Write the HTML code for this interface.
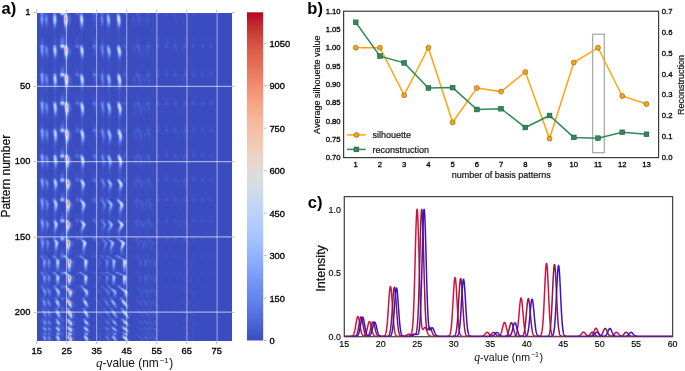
<!DOCTYPE html>
<html><head><meta charset="utf-8"><style>
html,body{margin:0;padding:0;background:#fff;width:685px;height:371px;overflow:hidden}
body{position:relative}
#hm{position:absolute;left:36.5px;top:12.5px;width:195px;height:328.5px;background-color:#3b4cc0;background-image:linear-gradient(90deg,rgba(59,76,192,0) 0%,rgba(59,76,192,0) 2.3%,rgba(150,180,250,.35) 2.9%,rgba(59,76,192,0) 3.5%,rgba(59,76,192,0) 8.8%,rgba(170,200,250,.45) 9.3%,rgba(59,76,192,0) 9.9%,rgba(59,76,192,0) 14.4%,rgba(235,150,120,.6) 15%,rgba(59,76,192,0) 15.7%,rgba(59,76,192,0) 22.6%,rgba(180,205,250,.5) 23.2%,rgba(59,76,192,0) 23.9%,rgba(59,76,192,0) 36.2%,rgba(170,200,250,.45) 36.8%,rgba(59,76,192,0) 37.5%,rgba(59,76,192,0) 41.6%,rgba(190,210,250,.5) 42.2%,rgba(59,76,192,0) 42.9%,rgba(59,76,192,0) 100%)}
</style></head><body>
<canvas id="hm" width="390" height="218"></canvas>
<svg width="685" height="371" viewBox="0 0 685 371" style="position:absolute;left:0;top:0">
<defs><linearGradient id="cb" x1="0" y1="0" x2="0" y2="1"><stop offset="0" stop-color="rgb(180,4,38)"/><stop offset="0.03" stop-color="rgb(190,36,46)"/><stop offset="0.06" stop-color="rgb(202,59,55)"/><stop offset="0.09" stop-color="rgb(212,78,65)"/><stop offset="0.12" stop-color="rgb(221,95,75)"/><stop offset="0.16" stop-color="rgb(228,110,86)"/><stop offset="0.19" stop-color="rgb(235,125,98)"/><stop offset="0.22" stop-color="rgb(240,139,110)"/><stop offset="0.25" stop-color="rgb(244,152,122)"/><stop offset="0.28" stop-color="rgb(246,165,134)"/><stop offset="0.31" stop-color="rgb(247,176,147)"/><stop offset="0.34" stop-color="rgb(247,186,159)"/><stop offset="0.38" stop-color="rgb(245,196,172)"/><stop offset="0.41" stop-color="rgb(241,204,184)"/><stop offset="0.44" stop-color="rgb(236,211,197)"/><stop offset="0.47" stop-color="rgb(229,216,209)"/><stop offset="0.5" stop-color="rgb(221,220,220)"/><stop offset="0.53" stop-color="rgb(213,219,229)"/><stop offset="0.56" stop-color="rgb(204,217,237)"/><stop offset="0.59" stop-color="rgb(195,213,244)"/><stop offset="0.62" stop-color="rgb(185,208,249)"/><stop offset="0.66" stop-color="rgb(174,201,252)"/><stop offset="0.69" stop-color="rgb(163,194,254)"/><stop offset="0.72" stop-color="rgb(152,185,255)"/><stop offset="0.75" stop-color="rgb(141,176,254)"/><stop offset="0.78" stop-color="rgb(130,166,251)"/><stop offset="0.81" stop-color="rgb(119,154,247)"/><stop offset="0.84" stop-color="rgb(108,143,241)"/><stop offset="0.88" stop-color="rgb(98,130,234)"/><stop offset="0.91" stop-color="rgb(88,117,225)"/><stop offset="0.94" stop-color="rgb(78,104,216)"/><stop offset="0.97" stop-color="rgb(68,90,204)"/><stop offset="1" stop-color="rgb(59,76,192)"/></linearGradient></defs>
<line x1="66.5" y1="12.5" x2="66.5" y2="341" stroke="#fff" stroke-opacity="0.5" stroke-width="1.05"/>
<line x1="96.62" y1="12.5" x2="96.62" y2="341" stroke="#fff" stroke-opacity="0.5" stroke-width="1.05"/>
<line x1="126.74" y1="12.5" x2="126.74" y2="341" stroke="#fff" stroke-opacity="0.5" stroke-width="1.05"/>
<line x1="156.86" y1="12.5" x2="156.86" y2="341" stroke="#fff" stroke-opacity="0.5" stroke-width="1.05"/>
<line x1="186.98" y1="12.5" x2="186.98" y2="341" stroke="#fff" stroke-opacity="0.5" stroke-width="1.05"/>
<line x1="217.1" y1="12.5" x2="217.1" y2="341" stroke="#fff" stroke-opacity="0.5" stroke-width="1.05"/>
<line x1="36.5" y1="86.4" x2="231.5" y2="86.4" stroke="#fff" stroke-opacity="0.55" stroke-width="1.1"/>
<line x1="36.5" y1="161.63" x2="231.5" y2="161.63" stroke="#fff" stroke-opacity="0.55" stroke-width="1.1"/>
<line x1="36.5" y1="236.87" x2="231.5" y2="236.87" stroke="#fff" stroke-opacity="0.55" stroke-width="1.1"/>
<line x1="36.5" y1="312.11" x2="231.5" y2="312.11" stroke="#fff" stroke-opacity="0.55" stroke-width="1.1"/>
<line x1="36.8" y1="341" x2="36.8" y2="344" stroke="#aaa" stroke-width="0.8"/>
<line x1="36.8" y1="9.5" x2="36.8" y2="12.5" stroke="#aaa" stroke-width="0.8"/>
<line x1="66.8" y1="341" x2="66.8" y2="344" stroke="#aaa" stroke-width="0.8"/>
<line x1="66.8" y1="9.5" x2="66.8" y2="12.5" stroke="#aaa" stroke-width="0.8"/>
<line x1="96.8" y1="341" x2="96.8" y2="344" stroke="#aaa" stroke-width="0.8"/>
<line x1="96.8" y1="9.5" x2="96.8" y2="12.5" stroke="#aaa" stroke-width="0.8"/>
<line x1="126.8" y1="341" x2="126.8" y2="344" stroke="#aaa" stroke-width="0.8"/>
<line x1="126.8" y1="9.5" x2="126.8" y2="12.5" stroke="#aaa" stroke-width="0.8"/>
<line x1="156.8" y1="341" x2="156.8" y2="344" stroke="#aaa" stroke-width="0.8"/>
<line x1="156.8" y1="9.5" x2="156.8" y2="12.5" stroke="#aaa" stroke-width="0.8"/>
<line x1="186.8" y1="341" x2="186.8" y2="344" stroke="#aaa" stroke-width="0.8"/>
<line x1="186.8" y1="9.5" x2="186.8" y2="12.5" stroke="#aaa" stroke-width="0.8"/>
<line x1="216.8" y1="341" x2="216.8" y2="344" stroke="#aaa" stroke-width="0.8"/>
<line x1="216.8" y1="9.5" x2="216.8" y2="12.5" stroke="#aaa" stroke-width="0.8"/>
<line x1="33.5" y1="12.5" x2="36.5" y2="12.5" stroke="#aaa" stroke-width="0.8"/>
<line x1="231.5" y1="12.5" x2="234.5" y2="12.5" stroke="#aaa" stroke-width="0.8"/>
<line x1="33.5" y1="86.34" x2="36.5" y2="86.34" stroke="#aaa" stroke-width="0.8"/>
<line x1="231.5" y1="86.34" x2="234.5" y2="86.34" stroke="#aaa" stroke-width="0.8"/>
<line x1="33.5" y1="161.68" x2="36.5" y2="161.68" stroke="#aaa" stroke-width="0.8"/>
<line x1="231.5" y1="161.68" x2="234.5" y2="161.68" stroke="#aaa" stroke-width="0.8"/>
<line x1="33.5" y1="237.03" x2="36.5" y2="237.03" stroke="#aaa" stroke-width="0.8"/>
<line x1="231.5" y1="237.03" x2="234.5" y2="237.03" stroke="#aaa" stroke-width="0.8"/>
<line x1="33.5" y1="312.37" x2="36.5" y2="312.37" stroke="#aaa" stroke-width="0.8"/>
<line x1="231.5" y1="312.37" x2="234.5" y2="312.37" stroke="#aaa" stroke-width="0.8"/>
<g style="font-family:&quot;Liberation Sans&quot;,sans-serif;font-size:8.4px" fill="#000" stroke="#000" stroke-width="0.3">
<text x="36.8" y="353.6" text-anchor="middle" textLength="10.4" lengthAdjust="spacingAndGlyphs">15</text>
<text x="66.8" y="353.6" text-anchor="middle" textLength="10.4" lengthAdjust="spacingAndGlyphs">25</text>
<text x="96.8" y="353.6" text-anchor="middle" textLength="10.4" lengthAdjust="spacingAndGlyphs">35</text>
<text x="126.8" y="353.6" text-anchor="middle" textLength="10.4" lengthAdjust="spacingAndGlyphs">45</text>
<text x="156.8" y="353.6" text-anchor="middle" textLength="10.4" lengthAdjust="spacingAndGlyphs">55</text>
<text x="186.8" y="353.6" text-anchor="middle" textLength="10.4" lengthAdjust="spacingAndGlyphs">65</text>
<text x="216.8" y="353.6" text-anchor="middle" textLength="10.4" lengthAdjust="spacingAndGlyphs">75</text>
<text x="30.4" y="15.1" text-anchor="end" textLength="5.2" lengthAdjust="spacingAndGlyphs">1</text>
<text x="30.4" y="88.94" text-anchor="end" textLength="10.4" lengthAdjust="spacingAndGlyphs">50</text>
<text x="30.4" y="164.28" text-anchor="end" textLength="15.6" lengthAdjust="spacingAndGlyphs">100</text>
<text x="30.4" y="239.63" text-anchor="end" textLength="15.6" lengthAdjust="spacingAndGlyphs">150</text>
<text x="30.4" y="314.97" text-anchor="end" textLength="15.6" lengthAdjust="spacingAndGlyphs">200</text>
<text x="269.4" y="344.1" textLength="5.2" lengthAdjust="spacingAndGlyphs">0</text>
<text x="269.4" y="301.64" textLength="15.6" lengthAdjust="spacingAndGlyphs">150</text>
<text x="269.4" y="259.19" textLength="15.6" lengthAdjust="spacingAndGlyphs">300</text>
<text x="269.4" y="216.73" textLength="15.6" lengthAdjust="spacingAndGlyphs">450</text>
<text x="269.4" y="174.27" textLength="15.6" lengthAdjust="spacingAndGlyphs">600</text>
<text x="269.4" y="131.81" textLength="15.6" lengthAdjust="spacingAndGlyphs">750</text>
<text x="269.4" y="89.36" textLength="15.6" lengthAdjust="spacingAndGlyphs">900</text>
<text x="269.4" y="46.9" textLength="20.8" lengthAdjust="spacingAndGlyphs">1050</text>
</g>
<rect x="247" y="12.3" width="16.2" height="328.2" fill="url(#cb)"/>
<line x1="264" y1="340.5" x2="266.6" y2="340.5" stroke="#aaa" stroke-width="0.8"/>
<line x1="264" y1="298.04" x2="266.6" y2="298.04" stroke="#aaa" stroke-width="0.8"/>
<line x1="264" y1="255.59" x2="266.6" y2="255.59" stroke="#aaa" stroke-width="0.8"/>
<line x1="264" y1="213.13" x2="266.6" y2="213.13" stroke="#aaa" stroke-width="0.8"/>
<line x1="264" y1="170.67" x2="266.6" y2="170.67" stroke="#aaa" stroke-width="0.8"/>
<line x1="264" y1="128.21" x2="266.6" y2="128.21" stroke="#aaa" stroke-width="0.8"/>
<line x1="264" y1="85.76" x2="266.6" y2="85.76" stroke="#aaa" stroke-width="0.8"/>
<line x1="264" y1="43.3" x2="266.6" y2="43.3" stroke="#aaa" stroke-width="0.8"/>
<text x="1.5" y="13.6" style="font-family:&quot;Liberation Sans&quot;,sans-serif;font-size:16.5px;font-weight:bold" fill="#000">a)</text>
<text transform="translate(10.4,176.2) rotate(-90)" text-anchor="middle" style="font-family:&quot;Liberation Sans&quot;,sans-serif;font-size:12px" fill="#111" stroke="#111" stroke-width="0.25">Pattern number</text>
<text x="134.6" y="367.2" text-anchor="middle" style="font-family:&quot;Liberation Sans&quot;,sans-serif;font-size:11.9px" fill="#111"><tspan style="font-family:&quot;Liberation Serif&quot;,serif;font-style:italic;font-size:13px">q</tspan>-value (nm<tspan dx="1" dy="-3.8" style="font-size:7.8px">&#8722;1</tspan><tspan dx="0.6" dy="3.8">)</tspan></text>
<text x="307.3" y="14.2" style="font-family:&quot;Liberation Sans&quot;,sans-serif;font-size:16.5px;font-weight:bold" fill="#000">b)</text>
<rect x="343.6" y="11.2" width="315" height="146.4" fill="none" stroke="#3a3a3a" stroke-width="1.2"/>
<g style="font-family:&quot;Liberation Sans&quot;,sans-serif;font-size:7.7px" fill="#000" stroke="#000" stroke-width="0.3">
<text x="340.6" y="13.8" text-anchor="end">1.10</text>
<text x="340.6" y="32.1" text-anchor="end">1.05</text>
<text x="340.6" y="50.4" text-anchor="end">1.00</text>
<text x="340.6" y="68.7" text-anchor="end">0.95</text>
<text x="340.6" y="87" text-anchor="end">0.90</text>
<text x="340.6" y="105.3" text-anchor="end">0.85</text>
<text x="340.6" y="123.6" text-anchor="end">0.80</text>
<text x="340.6" y="141.9" text-anchor="end">0.75</text>
<text x="340.6" y="160.2" text-anchor="end">0.70</text>
<text x="661.8" y="13.8">0.7</text>
<text x="661.8" y="34.71">0.6</text>
<text x="661.8" y="55.63">0.5</text>
<text x="661.8" y="76.54">0.4</text>
<text x="661.8" y="97.46">0.3</text>
<text x="661.8" y="118.37">0.2</text>
<text x="661.8" y="139.29">0.1</text>
<text x="661.8" y="160.2">0.0</text>
<text x="355.72" y="166.7" text-anchor="middle">1</text>
<text x="379.95" y="166.7" text-anchor="middle">2</text>
<text x="404.18" y="166.7" text-anchor="middle">3</text>
<text x="428.41" y="166.7" text-anchor="middle">4</text>
<text x="452.64" y="166.7" text-anchor="middle">5</text>
<text x="476.87" y="166.7" text-anchor="middle">6</text>
<text x="501.1" y="166.7" text-anchor="middle">7</text>
<text x="525.33" y="166.7" text-anchor="middle">8</text>
<text x="549.56" y="166.7" text-anchor="middle">9</text>
<text x="573.79" y="166.7" text-anchor="middle">10</text>
<text x="598.02" y="166.7" text-anchor="middle">11</text>
<text x="622.25" y="166.7" text-anchor="middle">12</text>
<text x="646.48" y="166.7" text-anchor="middle">13</text>
</g>
<text x="501.2" y="177.6" text-anchor="middle" style="font-family:&quot;Liberation Sans&quot;,sans-serif;font-size:9px" fill="#111" stroke="#111" stroke-width="0.2">number of basis patterns</text>
<text transform="translate(320.0,84.7) rotate(-90)" text-anchor="middle" style="font-family:&quot;Liberation Sans&quot;,sans-serif;font-size:9px" fill="#111" stroke="#111" stroke-width="0.2">Average silhouette value</text>
<text transform="translate(683.8,84.9) rotate(-90)" text-anchor="middle" style="font-family:&quot;Liberation Sans&quot;,sans-serif;font-size:9px" fill="#111" stroke="#111" stroke-width="0.2">Reconstruction</text>
<rect x="592.6" y="34.3" width="11.7" height="118.4" fill="none" stroke="#aaa" stroke-width="1.3"/>
<polyline points="355.72,47.7 379.95,47.7 404.18,95.2 428.41,47.7 452.64,122.3 476.87,88 501.1,91.6 525.33,72 549.56,138.6 573.79,62.5 598.02,47.7 622.25,96 646.48,104" fill="none" stroke="#fda50f" stroke-width="1.5"/>
<polyline points="355.72,22.3 379.95,56.1 404.18,62.9 428.41,88 452.64,87.6 476.87,109.5 501.1,108.7 525.33,127.5 549.56,115.5 573.79,137.4 598.02,138.2 622.25,132.3 646.48,134.3" fill="none" stroke="#2e8b57" stroke-width="1.5"/>
<circle cx="355.72" cy="47.7" r="2.5" fill="#fda50f" stroke="#5a4a20" stroke-width="0.5"/>
<circle cx="379.95" cy="47.7" r="2.5" fill="#fda50f" stroke="#5a4a20" stroke-width="0.5"/>
<circle cx="404.18" cy="95.2" r="2.5" fill="#fda50f" stroke="#5a4a20" stroke-width="0.5"/>
<circle cx="428.41" cy="47.7" r="2.5" fill="#fda50f" stroke="#5a4a20" stroke-width="0.5"/>
<circle cx="452.64" cy="122.3" r="2.5" fill="#fda50f" stroke="#5a4a20" stroke-width="0.5"/>
<circle cx="476.87" cy="88" r="2.5" fill="#fda50f" stroke="#5a4a20" stroke-width="0.5"/>
<circle cx="501.1" cy="91.6" r="2.5" fill="#fda50f" stroke="#5a4a20" stroke-width="0.5"/>
<circle cx="525.33" cy="72" r="2.5" fill="#fda50f" stroke="#5a4a20" stroke-width="0.5"/>
<circle cx="549.56" cy="138.6" r="2.5" fill="#fda50f" stroke="#5a4a20" stroke-width="0.5"/>
<circle cx="573.79" cy="62.5" r="2.5" fill="#fda50f" stroke="#5a4a20" stroke-width="0.5"/>
<circle cx="598.02" cy="47.7" r="2.5" fill="#fda50f" stroke="#5a4a20" stroke-width="0.5"/>
<circle cx="622.25" cy="96" r="2.5" fill="#fda50f" stroke="#5a4a20" stroke-width="0.5"/>
<circle cx="646.48" cy="104" r="2.5" fill="#fda50f" stroke="#5a4a20" stroke-width="0.5"/>
<rect x="353.32" y="19.9" width="4.8" height="4.8" fill="#2e8b57" stroke="#1d4a30" stroke-width="0.5"/>
<rect x="377.55" y="53.7" width="4.8" height="4.8" fill="#2e8b57" stroke="#1d4a30" stroke-width="0.5"/>
<rect x="401.78" y="60.5" width="4.8" height="4.8" fill="#2e8b57" stroke="#1d4a30" stroke-width="0.5"/>
<rect x="426.01" y="85.6" width="4.8" height="4.8" fill="#2e8b57" stroke="#1d4a30" stroke-width="0.5"/>
<rect x="450.24" y="85.2" width="4.8" height="4.8" fill="#2e8b57" stroke="#1d4a30" stroke-width="0.5"/>
<rect x="474.47" y="107.1" width="4.8" height="4.8" fill="#2e8b57" stroke="#1d4a30" stroke-width="0.5"/>
<rect x="498.7" y="106.3" width="4.8" height="4.8" fill="#2e8b57" stroke="#1d4a30" stroke-width="0.5"/>
<rect x="522.93" y="125.1" width="4.8" height="4.8" fill="#2e8b57" stroke="#1d4a30" stroke-width="0.5"/>
<rect x="547.16" y="113.1" width="4.8" height="4.8" fill="#2e8b57" stroke="#1d4a30" stroke-width="0.5"/>
<rect x="571.39" y="135" width="4.8" height="4.8" fill="#2e8b57" stroke="#1d4a30" stroke-width="0.5"/>
<rect x="595.62" y="135.8" width="4.8" height="4.8" fill="#2e8b57" stroke="#1d4a30" stroke-width="0.5"/>
<rect x="619.85" y="129.9" width="4.8" height="4.8" fill="#2e8b57" stroke="#1d4a30" stroke-width="0.5"/>
<rect x="644.08" y="131.9" width="4.8" height="4.8" fill="#2e8b57" stroke="#1d4a30" stroke-width="0.5"/>
<line x1="347" y1="134.9" x2="365.7" y2="134.9" stroke="#fda50f" stroke-width="1.5"/>
<circle cx="356.4" cy="134.9" r="2.5" fill="#fda50f" stroke="#5a4a20" stroke-width="0.5"/>
<line x1="347" y1="149.4" x2="365.7" y2="149.4" stroke="#2e8b57" stroke-width="1.5"/>
<rect x="354" y="147" width="4.8" height="4.8" fill="#2e8b57" stroke="#1d4a30" stroke-width="0.5"/>
<text x="372.4" y="138.2" style="font-family:&quot;Liberation Sans&quot;,sans-serif;font-size:9px" fill="#111" stroke="#111" stroke-width="0.2">silhouette</text>
<text x="372.6" y="152.6" style="font-family:&quot;Liberation Sans&quot;,sans-serif;font-size:9px" fill="#111" stroke="#111" stroke-width="0.2">reconstruction</text>
<text x="307.8" y="208.2" style="font-family:&quot;Liberation Sans&quot;,sans-serif;font-size:16.5px;font-weight:bold" fill="#000">c)</text>
<g style="font-family:&quot;Liberation Sans&quot;,sans-serif;font-size:9.9px" fill="#000" stroke="#000" stroke-width="0.15">
<text x="340.9" y="339.8" text-anchor="end" textLength="12.38" lengthAdjust="spacingAndGlyphs">0.0</text>
<text x="340.9" y="276.25" text-anchor="end" textLength="12.38" lengthAdjust="spacingAndGlyphs">0.5</text>
<text x="340.9" y="212.7" text-anchor="end" textLength="12.38" lengthAdjust="spacingAndGlyphs">1.0</text>
<text x="344.3" y="347.1" text-anchor="middle" textLength="9.91" lengthAdjust="spacingAndGlyphs">15</text>
<text x="380.78" y="347.1" text-anchor="middle" textLength="9.91" lengthAdjust="spacingAndGlyphs">20</text>
<text x="417.26" y="347.1" text-anchor="middle" textLength="9.91" lengthAdjust="spacingAndGlyphs">25</text>
<text x="453.73" y="347.1" text-anchor="middle" textLength="9.91" lengthAdjust="spacingAndGlyphs">30</text>
<text x="490.21" y="347.1" text-anchor="middle" textLength="9.91" lengthAdjust="spacingAndGlyphs">35</text>
<text x="526.69" y="347.1" text-anchor="middle" textLength="9.91" lengthAdjust="spacingAndGlyphs">40</text>
<text x="563.17" y="347.1" text-anchor="middle" textLength="9.91" lengthAdjust="spacingAndGlyphs">45</text>
<text x="599.64" y="347.1" text-anchor="middle" textLength="9.91" lengthAdjust="spacingAndGlyphs">50</text>
<text x="636.12" y="347.1" text-anchor="middle" textLength="9.91" lengthAdjust="spacingAndGlyphs">55</text>
<text x="672.6" y="347.1" text-anchor="middle" textLength="9.91" lengthAdjust="spacingAndGlyphs">60</text>
</g>
<text transform="translate(324.6,268.4) rotate(-90)" text-anchor="middle" style="font-family:&quot;Liberation Sans&quot;,sans-serif;font-size:12.5px" fill="#111" stroke="#111" stroke-width="0.25">Intensity</text>
<text x="508.6" y="360.8" text-anchor="middle" style="font-family:&quot;Liberation Sans&quot;,sans-serif;font-size:10.6px" fill="#111"><tspan style="font-family:&quot;Liberation Serif&quot;,serif;font-style:italic;font-size:11.6px">q</tspan>-value (nm<tspan dx="1" dy="-3.6" style="font-size:7px">&#8722;1</tspan><tspan dx="0.5" dy="3.6">)</tspan></text>
<rect x="344.3" y="196.6" width="328.3" height="140.1" fill="none" stroke="#444" stroke-width="1.25"/>
<clipPath id="cc"><rect x="344.8" y="196.6" width="327.3" height="139.9"/></clipPath>
<g clip-path="url(#cc)"><polyline points="344.3,336.4 344.45,336.4 344.59,336.4 344.74,336.4 344.88,336.4 345.03,336.4 345.18,336.4 345.32,336.4 345.47,336.4 345.61,336.4 345.76,336.4 345.91,336.4 346.05,336.4 346.2,336.4 346.34,336.4 346.49,336.4 346.63,336.4 346.78,336.4 346.93,336.4 347.07,336.4 347.22,336.4 347.36,336.4 347.51,336.4 347.66,336.4 347.8,336.4 347.95,336.4 348.09,336.4 348.24,336.4 348.39,336.4 348.53,336.4 348.68,336.4 348.82,336.4 348.97,336.4 349.12,336.4 349.26,336.4 349.41,336.4 349.55,336.4 349.7,336.4 349.84,336.4 349.99,336.39 350.14,336.39 350.28,336.39 350.43,336.38 350.57,336.38 350.72,336.37 350.87,336.36 351.01,336.35 351.16,336.34 351.3,336.32 351.45,336.3 351.6,336.28 351.74,336.24 351.89,336.2 352.03,336.15 352.18,336.09 352.33,336.02 352.47,335.94 352.62,335.83 352.76,335.71 352.91,335.57 353.05,335.4 353.2,335.21 353.35,334.98 353.49,334.72 353.64,334.43 353.78,334.09 353.93,333.72 354.08,333.3 354.22,332.83 354.37,332.32 354.51,331.76 354.66,331.14 354.81,330.49 354.95,329.78 355.1,329.04 355.24,328.25 355.39,327.43 355.54,326.58 355.68,325.7 355.83,324.82 355.97,323.93 356.12,323.04 356.26,322.17 356.41,321.33 356.56,320.52 356.7,319.77 356.85,319.07 356.99,318.44 357.14,317.89 357.29,317.42 357.43,317.06 357.58,316.79 357.72,316.63 357.87,316.57 358.02,316.63 358.16,316.79 358.31,317.06 358.45,317.42 358.6,317.89 358.75,318.44 358.89,319.07 359.04,319.77 359.18,320.52 359.33,321.33 359.47,322.17 359.62,323.04 359.77,323.93 359.91,324.82 360.06,325.7 360.2,326.58 360.35,327.43 360.5,328.25 360.64,329.03 360.79,329.78 360.93,330.49 361.08,331.14 361.23,331.75 361.37,332.31 361.52,332.83 361.66,333.29 361.81,333.71 361.96,334.08 362.1,334.41 362.25,334.7 362.39,334.96 362.54,335.18 362.68,335.36 362.83,335.52 362.98,335.65 363.12,335.75 363.27,335.83 363.41,335.89 363.56,335.93 363.71,335.95 363.85,335.95 364,335.93 364.14,335.89 364.29,335.84 364.44,335.76 364.58,335.66 364.73,335.54 364.87,335.4 365.02,335.22 365.17,335.02 365.31,334.8 365.46,334.54 365.6,334.24 365.75,333.92 365.89,333.55 366.04,333.16 366.19,332.72 366.33,332.25 366.48,331.74 366.62,331.2 366.77,330.63 366.92,330.04 367.06,329.41 367.21,328.77 367.35,328.12 367.5,327.46 367.65,326.8 367.79,326.14 367.94,325.5 368.08,324.89 368.23,324.31 368.38,323.76 368.52,323.27 368.67,322.83 368.81,322.45 368.96,322.14 369.1,321.91 369.25,321.75 369.4,321.67 369.54,321.67 369.69,321.75 369.83,321.91 369.98,322.14 370.13,322.45 370.27,322.83 370.42,323.27 370.56,323.76 370.71,324.31 370.86,324.89 371,325.5 371.15,326.14 371.29,326.8 371.44,327.46 371.59,328.12 371.73,328.77 371.88,329.41 372.02,330.04 372.17,330.63 372.31,331.21 372.46,331.75 372.61,332.25 372.75,332.72 372.9,333.16 373.04,333.56 373.19,333.92 373.34,334.25 373.48,334.55 373.63,334.81 373.77,335.05 373.92,335.25 374.07,335.43 374.21,335.59 374.36,335.72 374.5,335.84 374.65,335.94 374.8,336.02 374.94,336.09 375.09,336.15 375.23,336.2 375.38,336.24 375.52,336.27 375.67,336.3 375.82,336.32 375.96,336.34 376.11,336.35 376.25,336.36 376.4,336.37 376.55,336.38 376.69,336.38 376.84,336.39 376.98,336.39 377.13,336.39 377.28,336.39 377.42,336.4 377.57,336.4 377.71,336.4 377.86,336.4 378.01,336.4 378.15,336.4 378.3,336.4 378.44,336.4 378.59,336.4 378.74,336.4 378.88,336.4 379.03,336.4 379.17,336.4 379.32,336.4 379.46,336.4 379.61,336.4 379.76,336.4 379.9,336.4 380.05,336.4 380.19,336.4 380.34,336.4 380.49,336.4 380.63,336.4 380.78,336.4 380.92,336.4 381.07,336.4 381.22,336.4 381.36,336.4 381.51,336.4 381.65,336.4 381.8,336.4 381.95,336.4 382.09,336.39 382.24,336.39 382.38,336.39 382.53,336.39 382.67,336.38 382.82,336.37 382.97,336.37 383.11,336.35 383.26,336.34 383.4,336.32 383.55,336.3 383.7,336.27 383.84,336.23 383.99,336.18 384.13,336.12 384.28,336.05 384.43,335.96 384.57,335.85 384.72,335.71 384.86,335.54 385.01,335.35 385.16,335.11 385.3,334.83 385.45,334.49 385.59,334.1 385.74,333.65 385.88,333.12 386.03,332.51 386.18,331.81 386.32,331.02 386.47,330.13 386.61,329.13 386.76,328.01 386.91,326.78 387.05,325.42 387.2,323.94 387.34,322.35 387.49,320.63 387.64,318.8 387.78,316.87 387.93,314.84 388.07,312.73 388.22,310.56 388.37,308.34 388.51,306.1 388.66,303.86 388.8,301.65 388.95,299.49 389.09,297.41 389.24,295.43 389.39,293.59 389.53,291.92 389.68,290.43 389.82,289.15 389.97,288.1 390.12,287.3 390.26,286.76 390.41,286.48 390.55,286.48 390.7,286.76 390.85,287.3 390.99,288.1 391.14,289.15 391.28,290.43 391.43,291.92 391.58,293.59 391.72,295.43 391.87,297.41 392.01,299.49 392.16,301.65 392.3,303.86 392.45,306.1 392.6,308.34 392.74,310.56 392.89,312.73 393.03,314.84 393.18,316.87 393.33,318.8 393.47,320.63 393.62,322.35 393.76,323.94 393.91,325.42 394.06,326.78 394.2,328.01 394.35,329.13 394.49,330.13 394.64,331.02 394.79,331.81 394.93,332.51 395.08,333.12 395.22,333.65 395.37,334.1 395.51,334.49 395.66,334.83 395.81,335.11 395.95,335.35 396.1,335.54 396.24,335.71 396.39,335.85 396.54,335.96 396.68,336.05 396.83,336.12 396.97,336.18 397.12,336.23 397.27,336.27 397.41,336.3 397.56,336.32 397.7,336.34 397.85,336.35 398,336.37 398.14,336.37 398.29,336.38 398.43,336.39 398.58,336.39 398.72,336.39 398.87,336.39 399.02,336.4 399.16,336.4 399.31,336.4 399.45,336.4 399.6,336.4 399.75,336.4 399.89,336.4 400.04,336.4 400.18,336.4 400.33,336.4 400.48,336.4 400.62,336.4 400.77,336.4 400.91,336.4 401.06,336.4 401.21,336.4 401.35,336.4 401.5,336.4 401.64,336.4 401.79,336.4 401.93,336.39 402.08,336.39 402.23,336.39 402.37,336.39 402.52,336.38 402.66,336.38 402.81,336.37 402.96,336.37 403.1,336.36 403.25,336.35 403.39,336.34 403.54,336.33 403.69,336.31 403.83,336.29 403.98,336.27 404.12,336.25 404.27,336.22 404.42,336.19 404.56,336.15 404.71,336.11 404.85,336.07 405,336.02 405.14,335.96 405.29,335.9 405.44,335.83 405.58,335.76 405.73,335.68 405.87,335.59 406.02,335.51 406.17,335.41 406.31,335.32 406.46,335.22 406.6,335.11 406.75,335.01 406.9,334.91 407.04,334.81 407.19,334.71 407.33,334.61 407.48,334.52 407.63,334.44 407.77,334.36 407.92,334.29 408.06,334.23 408.21,334.18 408.35,334.14 408.5,334.12 408.65,334.1 408.79,334.1 408.94,334.1 409.08,334.12 409.23,334.15 409.38,334.18 409.52,334.22 409.67,334.26 409.81,334.31 409.96,334.35 410.11,334.39 410.25,334.41 410.4,334.43 410.54,334.42 410.69,334.39 410.84,334.32 410.98,334.21 411.13,334.05 411.27,333.84 411.42,333.55 411.57,333.17 411.71,332.71 411.86,332.13 412,331.42 412.15,330.57 412.29,329.55 412.44,328.36 412.59,326.96 412.73,325.35 412.88,323.5 413.02,321.4 413.17,319.02 413.32,316.36 413.46,313.39 413.61,310.12 413.75,306.54 413.9,302.64 414.05,298.44 414.19,293.93 414.34,289.15 414.48,284.12 414.63,278.86 414.78,273.41 414.92,267.83 415.07,262.15 415.21,256.45 415.36,250.77 415.5,245.2 415.65,239.79 415.8,234.62 415.94,229.76 416.09,225.28 416.23,221.25 416.38,217.72 416.53,214.76 416.67,212.4 416.82,210.68 416.96,209.65 417.11,209.3 417.26,209.64 417.4,210.68 417.55,212.39 417.69,214.75 417.84,217.71 417.99,221.23 418.13,225.26 418.28,229.74 418.42,234.59 418.57,239.75 418.71,245.14 418.86,250.7 419.01,256.36 419.15,262.04 419.3,267.69 419.44,273.24 419.59,278.65 419.74,283.87 419.88,288.85 420.03,293.57 420.17,298 420.32,302.13 420.47,305.93 420.61,309.41 420.76,312.56 420.9,315.39 421.05,317.9 421.2,320.11 421.34,322.04 421.49,323.68 421.63,325.08 421.78,326.24 421.92,327.18 422.07,327.93 422.22,328.51 422.36,328.93 422.51,329.21 422.65,329.38 422.8,329.44 422.95,329.43 423.09,329.34 423.24,329.2 423.38,329.03 423.53,328.83 423.68,328.61 423.82,328.39 423.97,328.18 424.11,327.98 424.26,327.81 424.41,327.66 424.55,327.55 424.7,327.48 424.84,327.45 424.99,327.47 425.13,327.53 425.28,327.63 425.43,327.78 425.57,327.97 425.72,328.2 425.86,328.47 426.01,328.77 426.16,329.1 426.3,329.45 426.45,329.82 426.59,330.21 426.74,330.6 426.89,331 427.03,331.4 427.18,331.8 427.32,332.18 427.47,332.56 427.62,332.92 427.76,333.27 427.91,333.59 428.05,333.9 428.2,334.18 428.34,334.44 428.49,334.69 428.64,334.91 428.78,335.1 428.93,335.28 429.07,335.44 429.22,335.58 429.37,335.71 429.51,335.82 429.66,335.91 429.8,335.99 429.95,336.06 430.1,336.12 430.24,336.17 430.39,336.21 430.53,336.25 430.68,336.28 430.83,336.3 430.97,336.32 431.12,336.34 431.26,336.35 431.41,336.36 431.55,336.37 431.7,336.38 431.85,336.38 431.99,336.39 432.14,336.39 432.28,336.39 432.43,336.39 432.58,336.4 432.72,336.4 432.87,336.4 433.01,336.4 433.16,336.4 433.31,336.4 433.45,336.4 433.6,336.4 433.74,336.4 433.89,336.4 434.04,336.4 434.18,336.4 434.33,336.4 434.47,336.4 434.62,336.4 434.76,336.4 434.91,336.4 435.06,336.4 435.2,336.4 435.35,336.4 435.49,336.4 435.64,336.4 435.79,336.4 435.93,336.4 436.08,336.4 436.22,336.4 436.37,336.4 436.52,336.4 436.66,336.4 436.81,336.4 436.95,336.4 437.1,336.4 437.25,336.4 437.39,336.4 437.54,336.4 437.68,336.4 437.83,336.4 437.97,336.4 438.12,336.4 438.27,336.4 438.41,336.4 438.56,336.4 438.7,336.4 438.85,336.4 439,336.4 439.14,336.4 439.29,336.4 439.43,336.4 439.58,336.4 439.73,336.4 439.87,336.4 440.02,336.4 440.16,336.4 440.31,336.4 440.46,336.4 440.6,336.4 440.75,336.4 440.89,336.4 441.04,336.4 441.18,336.4 441.33,336.4 441.48,336.4 441.62,336.4 441.77,336.4 441.91,336.4 442.06,336.4 442.21,336.4 442.35,336.4 442.5,336.4 442.64,336.4 442.79,336.4 442.94,336.4 443.08,336.4 443.23,336.4 443.37,336.4 443.52,336.4 443.67,336.4 443.81,336.4 443.96,336.4 444.1,336.4 444.25,336.4 444.4,336.4 444.54,336.4 444.69,336.4 444.83,336.4 444.98,336.4 445.12,336.4 445.27,336.4 445.42,336.4 445.56,336.4 445.71,336.4 445.85,336.4 446,336.4 446.15,336.4 446.29,336.4 446.44,336.4 446.58,336.39 446.73,336.39 446.88,336.39 447.02,336.39 447.17,336.38 447.31,336.37 447.46,336.36 447.61,336.35 447.75,336.34 447.9,336.32 448.04,336.29 448.19,336.26 448.33,336.22 448.48,336.17 448.63,336.11 448.77,336.03 448.92,335.93 449.06,335.82 449.21,335.67 449.36,335.49 449.5,335.28 449.65,335.02 449.79,334.72 449.94,334.36 450.09,333.93 450.23,333.43 450.38,332.85 450.52,332.19 450.67,331.42 450.82,330.54 450.96,329.55 451.11,328.44 451.25,327.19 451.4,325.81 451.54,324.28 451.69,322.61 451.84,320.8 451.98,318.85 452.13,316.76 452.27,314.54 452.42,312.21 452.57,309.77 452.71,307.25 452.86,304.66 453,302.03 453.15,299.39 453.3,296.76 453.44,294.18 453.59,291.67 453.73,289.28 453.88,287.03 454.03,284.95 454.17,283.09 454.32,281.45 454.46,280.08 454.61,278.99 454.75,278.19 454.9,277.71 455.05,277.55 455.19,277.71 455.34,278.19 455.48,278.99 455.63,280.08 455.78,281.45 455.92,283.09 456.07,284.95 456.21,287.03 456.36,289.28 456.51,291.67 456.65,294.18 456.8,296.76 456.94,299.39 457.09,302.03 457.24,304.66 457.38,307.25 457.53,309.77 457.67,312.21 457.82,314.54 457.96,316.76 458.11,318.85 458.26,320.8 458.4,322.61 458.55,324.28 458.69,325.81 458.84,327.19 458.99,328.44 459.13,329.55 459.28,330.54 459.42,331.42 459.57,332.19 459.72,332.85 459.86,333.43 460.01,333.93 460.15,334.36 460.3,334.72 460.45,335.02 460.59,335.28 460.74,335.49 460.88,335.67 461.03,335.82 461.17,335.93 461.32,336.03 461.47,336.11 461.61,336.17 461.76,336.22 461.9,336.26 462.05,336.29 462.2,336.32 462.34,336.34 462.49,336.35 462.63,336.36 462.78,336.37 462.93,336.38 463.07,336.39 463.22,336.39 463.36,336.39 463.51,336.39 463.66,336.4 463.8,336.4 463.95,336.4 464.09,336.4 464.24,336.4 464.38,336.4 464.53,336.4 464.68,336.4 464.82,336.4 464.97,336.4 465.11,336.4 465.26,336.4 465.41,336.4 465.55,336.4 465.7,336.4 465.84,336.4 465.99,336.4 466.14,336.4 466.28,336.4 466.43,336.4 466.57,336.4 466.72,336.4 466.87,336.4 467.01,336.4 467.16,336.4 467.3,336.4 467.45,336.4 467.59,336.4 467.74,336.4 467.89,336.4 468.03,336.4 468.18,336.4 468.32,336.4 468.47,336.4 468.62,336.4 468.76,336.4 468.91,336.4 469.05,336.4 469.2,336.4 469.35,336.4 469.49,336.4 469.64,336.4 469.78,336.4 469.93,336.4 470.08,336.4 470.22,336.4 470.37,336.4 470.51,336.4 470.66,336.4 470.8,336.4 470.95,336.4 471.1,336.4 471.24,336.4 471.39,336.4 471.53,336.4 471.68,336.4 471.83,336.4 471.97,336.4 472.12,336.4 472.26,336.4 472.41,336.4 472.56,336.4 472.7,336.4 472.85,336.4 472.99,336.4 473.14,336.4 473.29,336.4 473.43,336.4 473.58,336.4 473.72,336.4 473.87,336.4 474.01,336.4 474.16,336.4 474.31,336.4 474.45,336.4 474.6,336.4 474.74,336.4 474.89,336.4 475.04,336.4 475.18,336.4 475.33,336.4 475.47,336.4 475.62,336.4 475.77,336.4 475.91,336.4 476.06,336.4 476.2,336.4 476.35,336.4 476.5,336.4 476.64,336.4 476.79,336.4 476.93,336.4 477.08,336.4 477.23,336.4 477.37,336.4 477.52,336.4 477.66,336.4 477.81,336.4 477.95,336.4 478.1,336.4 478.25,336.4 478.39,336.4 478.54,336.4 478.68,336.4 478.83,336.4 478.98,336.4 479.12,336.4 479.27,336.4 479.41,336.4 479.56,336.4 479.71,336.4 479.85,336.4 480,336.39 480.14,336.39 480.29,336.39 480.44,336.39 480.58,336.38 480.73,336.38 480.87,336.37 481.02,336.37 481.16,336.36 481.31,336.35 481.46,336.34 481.6,336.32 481.75,336.3 481.89,336.28 482.04,336.26 482.19,336.23 482.33,336.19 482.48,336.15 482.62,336.11 482.77,336.06 482.92,336 483.06,335.93 483.21,335.85 483.35,335.76 483.5,335.67 483.65,335.56 483.79,335.45 483.94,335.32 484.08,335.19 484.23,335.04 484.37,334.89 484.52,334.73 484.67,334.56 484.81,334.38 484.96,334.21 485.1,334.02 485.25,333.84 485.4,333.66 485.54,333.48 485.69,333.31 485.83,333.14 485.98,332.99 486.13,332.84 486.27,332.72 486.42,332.6 486.56,332.51 486.71,332.43 486.86,332.38 487,332.34 487.15,332.33 487.29,332.34 487.44,332.38 487.58,332.43 487.73,332.51 487.88,332.6 488.02,332.72 488.17,332.84 488.31,332.99 488.46,333.14 488.61,333.31 488.75,333.48 488.9,333.66 489.04,333.84 489.19,334.02 489.34,334.21 489.48,334.38 489.63,334.56 489.77,334.73 489.92,334.89 490.07,335.04 490.21,335.19 490.36,335.32 490.5,335.45 490.65,335.56 490.79,335.67 490.94,335.76 491.09,335.85 491.23,335.93 491.38,336 491.52,336.06 491.67,336.11 491.82,336.15 491.96,336.19 492.11,336.23 492.25,336.26 492.4,336.28 492.55,336.3 492.69,336.32 492.84,336.34 492.98,336.35 493.13,336.36 493.28,336.37 493.42,336.37 493.57,336.38 493.71,336.38 493.86,336.39 494,336.39 494.15,336.39 494.3,336.39 494.44,336.4 494.59,336.4 494.73,336.4 494.88,336.4 495.03,336.4 495.17,336.4 495.32,336.4 495.46,336.4 495.61,336.4 495.76,336.4 495.9,336.4 496.05,336.4 496.19,336.4 496.34,336.4 496.49,336.4 496.63,336.4 496.78,336.39 496.92,336.39 497.07,336.39 497.21,336.39 497.36,336.38 497.51,336.37 497.65,336.37 497.8,336.36 497.94,336.35 498.09,336.33 498.24,336.31 498.38,336.29 498.53,336.26 498.67,336.23 498.82,336.18 498.97,336.13 499.11,336.07 499.26,336 499.4,335.91 499.55,335.81 499.7,335.7 499.84,335.56 499.99,335.4 500.13,335.22 500.28,335.01 500.42,334.77 500.57,334.51 500.72,334.21 500.86,333.88 501.01,333.52 501.15,333.12 501.3,332.69 501.45,332.23 501.59,331.73 501.74,331.21 501.88,330.65 502.03,330.07 502.18,329.47 502.32,328.86 502.47,328.23 502.61,327.61 502.76,326.98 502.91,326.37 503.05,325.77 503.2,325.2 503.34,324.67 503.49,324.18 503.63,323.73 503.78,323.35 503.93,323.02 504.07,322.76 504.22,322.57 504.36,322.46 504.51,322.42 504.66,322.46 504.8,322.57 504.95,322.76 505.09,323.02 505.24,323.35 505.39,323.73 505.53,324.18 505.68,324.67 505.82,325.2 505.97,325.77 506.12,326.37 506.26,326.98 506.41,327.61 506.55,328.23 506.7,328.86 506.84,329.47 506.99,330.07 507.14,330.65 507.28,331.21 507.43,331.73 507.57,332.23 507.72,332.69 507.87,333.12 508.01,333.52 508.16,333.88 508.3,334.21 508.45,334.51 508.6,334.77 508.74,335.01 508.89,335.22 509.03,335.4 509.18,335.56 509.33,335.7 509.47,335.81 509.62,335.91 509.76,336 509.91,336.07 510.06,336.13 510.2,336.18 510.35,336.23 510.49,336.26 510.64,336.29 510.78,336.31 510.93,336.33 511.08,336.35 511.22,336.36 511.37,336.37 511.51,336.37 511.66,336.38 511.81,336.38 511.95,336.39 512.1,336.39 512.24,336.39 512.39,336.39 512.54,336.39 512.68,336.39 512.83,336.39 512.97,336.39 513.12,336.39 513.27,336.38 513.41,336.38 513.56,336.37 513.7,336.36 513.85,336.35 513.99,336.34 514.14,336.32 514.29,336.3 514.43,336.27 514.58,336.23 514.72,336.19 514.87,336.13 515.02,336.06 515.16,335.97 515.31,335.87 515.45,335.74 515.6,335.59 515.75,335.41 515.89,335.19 516.04,334.93 516.18,334.63 516.33,334.28 516.48,333.88 516.62,333.41 516.77,332.87 516.91,332.27 517.06,331.58 517.2,330.81 517.35,329.95 517.5,329 517.64,327.96 517.79,326.83 517.93,325.6 518.08,324.28 518.23,322.88 518.37,321.39 518.52,319.83 518.66,318.21 518.81,316.54 518.96,314.84 519.1,313.12 519.25,311.4 519.39,309.7 519.54,308.03 519.69,306.43 519.83,304.92 519.98,303.5 520.12,302.22 520.27,301.07 520.41,300.09 520.56,299.28 520.71,298.67 520.85,298.25 521,298.04 521.14,298.04 521.29,298.25 521.44,298.67 521.58,299.28 521.73,300.09 521.87,301.07 522.02,302.22 522.17,303.5 522.31,304.92 522.46,306.43 522.6,308.03 522.75,309.7 522.9,311.4 523.04,313.12 523.19,314.84 523.33,316.54 523.48,318.21 523.62,319.83 523.77,321.39 523.92,322.88 524.06,324.28 524.21,325.6 524.35,326.83 524.5,327.96 524.65,329 524.79,329.95 524.94,330.81 525.08,331.58 525.23,332.27 525.38,332.87 525.52,333.41 525.67,333.88 525.81,334.28 525.96,334.63 526.11,334.93 526.25,335.19 526.4,335.41 526.54,335.59 526.69,335.74 526.83,335.87 526.98,335.97 527.13,336.06 527.27,336.13 527.42,336.19 527.56,336.23 527.71,336.27 527.86,336.3 528,336.32 528.15,336.34 528.29,336.35 528.44,336.36 528.59,336.37 528.73,336.38 528.88,336.39 529.02,336.39 529.17,336.39 529.32,336.39 529.46,336.4 529.61,336.4 529.75,336.4 529.9,336.4 530.04,336.4 530.19,336.4 530.34,336.4 530.48,336.4 530.63,336.4 530.77,336.4 530.92,336.4 531.07,336.4 531.21,336.4 531.36,336.4 531.5,336.4 531.65,336.4 531.8,336.4 531.94,336.4 532.09,336.4 532.23,336.4 532.38,336.4 532.53,336.4 532.67,336.4 532.82,336.4 532.96,336.4 533.11,336.4 533.25,336.4 533.4,336.4 533.55,336.4 533.69,336.4 533.84,336.4 533.98,336.4 534.13,336.4 534.28,336.4 534.42,336.4 534.57,336.4 534.71,336.4 534.86,336.4 535.01,336.4 535.15,336.4 535.3,336.4 535.44,336.4 535.59,336.4 535.74,336.4 535.88,336.4 536.03,336.4 536.17,336.4 536.32,336.4 536.46,336.4 536.61,336.4 536.76,336.4 536.9,336.4 537.05,336.4 537.19,336.4 537.34,336.4 537.49,336.4 537.63,336.4 537.78,336.4 537.92,336.39 538.07,336.39 538.22,336.39 538.36,336.39 538.51,336.38 538.65,336.38 538.8,336.37 538.95,336.36 539.09,336.34 539.24,336.32 539.38,336.3 539.53,336.27 539.67,336.23 539.82,336.18 539.97,336.12 540.11,336.04 540.26,335.94 540.4,335.82 540.55,335.67 540.7,335.49 540.84,335.27 540.99,335.01 541.13,334.69 541.28,334.31 541.43,333.86 541.57,333.33 541.72,332.72 541.86,332 542.01,331.17 542.16,330.21 542.3,329.13 542.45,327.89 542.59,326.51 542.74,324.96 542.89,323.24 543.03,321.35 543.18,319.28 543.32,317.03 543.47,314.6 543.61,312.01 543.76,309.26 543.91,306.35 544.05,303.33 544.2,300.19 544.34,296.98 544.49,293.71 544.64,290.43 544.78,287.17 544.93,283.96 545.07,280.85 545.22,277.88 545.37,275.09 545.51,272.51 545.66,270.19 545.8,268.16 545.95,266.46 546.1,265.1 546.24,264.12 546.39,263.52 546.53,263.32 546.68,263.52 546.82,264.12 546.97,265.1 547.12,266.46 547.26,268.16 547.41,270.19 547.55,272.51 547.7,275.09 547.85,277.88 547.99,280.85 548.14,283.96 548.28,287.17 548.43,290.43 548.58,293.71 548.72,296.98 548.87,300.19 549.01,303.33 549.16,306.35 549.31,309.26 549.45,312.01 549.6,314.6 549.74,317.03 549.89,319.28 550.03,321.35 550.18,323.24 550.33,324.96 550.47,326.51 550.62,327.89 550.76,329.13 550.91,330.21 551.06,331.17 551.2,332 551.35,332.72 551.49,333.33 551.64,333.86 551.79,334.31 551.93,334.69 552.08,335.01 552.22,335.27 552.37,335.49 552.52,335.67 552.66,335.82 552.81,335.94 552.95,336.04 553.1,336.12 553.24,336.18 553.39,336.23 553.54,336.27 553.68,336.3 553.83,336.32 553.97,336.34 554.12,336.36 554.27,336.37 554.41,336.38 554.56,336.38 554.7,336.39 554.85,336.39 555,336.39 555.14,336.39 555.29,336.4 555.43,336.4 555.58,336.4 555.73,336.4 555.87,336.4 556.02,336.4 556.16,336.4 556.31,336.4 556.45,336.4 556.6,336.4 556.75,336.4 556.89,336.4 557.04,336.4 557.18,336.4 557.33,336.4 557.48,336.4 557.62,336.4 557.77,336.4 557.91,336.4 558.06,336.4 558.21,336.4 558.35,336.4 558.5,336.4 558.64,336.4 558.79,336.4 558.94,336.4 559.08,336.4 559.23,336.4 559.37,336.4 559.52,336.4 559.66,336.4 559.81,336.4 559.96,336.4 560.1,336.4 560.25,336.4 560.39,336.4 560.54,336.4 560.69,336.4 560.83,336.4 560.98,336.4 561.12,336.4 561.27,336.4 561.42,336.4 561.56,336.4 561.71,336.4 561.85,336.4 562,336.4 562.15,336.4 562.29,336.4 562.44,336.4 562.58,336.4 562.73,336.4 562.87,336.4 563.02,336.4 563.17,336.4 563.31,336.4 563.46,336.4 563.6,336.4 563.75,336.4 563.9,336.4 564.04,336.4 564.19,336.4 564.33,336.4 564.48,336.4 564.63,336.4 564.77,336.4 564.92,336.4 565.06,336.4 565.21,336.4 565.36,336.4 565.5,336.4 565.65,336.4 565.79,336.4 565.94,336.4 566.08,336.4 566.23,336.4 566.38,336.4 566.52,336.4 566.67,336.4 566.81,336.4 566.96,336.4 567.11,336.4 567.25,336.4 567.4,336.4 567.54,336.4 567.69,336.4 567.84,336.4 567.98,336.4 568.13,336.4 568.27,336.4 568.42,336.4 568.57,336.4 568.71,336.4 568.86,336.4 569,336.4 569.15,336.4 569.29,336.4 569.44,336.4 569.59,336.4 569.73,336.4 569.88,336.4 570.02,336.4 570.17,336.4 570.32,336.4 570.46,336.4 570.61,336.4 570.75,336.4 570.9,336.4 571.05,336.4 571.19,336.4 571.34,336.4 571.48,336.4 571.63,336.4 571.78,336.4 571.92,336.4 572.07,336.4 572.21,336.4 572.36,336.4 572.5,336.4 572.65,336.4 572.8,336.4 572.94,336.4 573.09,336.4 573.23,336.4 573.38,336.4 573.53,336.4 573.67,336.4 573.82,336.4 573.96,336.4 574.11,336.4 574.26,336.4 574.4,336.4 574.55,336.4 574.69,336.4 574.84,336.4 574.99,336.4 575.13,336.4 575.28,336.4 575.42,336.4 575.57,336.4 575.72,336.4 575.86,336.4 576.01,336.4 576.15,336.4 576.3,336.39 576.44,336.39 576.59,336.39 576.74,336.39 576.88,336.38 577.03,336.38 577.17,336.37 577.32,336.37 577.47,336.36 577.61,336.35 577.76,336.33 577.9,336.32 578.05,336.3 578.2,336.28 578.34,336.25 578.49,336.22 578.63,336.18 578.78,336.14 578.93,336.09 579.07,336.03 579.22,335.97 579.36,335.9 579.51,335.82 579.65,335.72 579.8,335.62 579.95,335.51 580.09,335.39 580.24,335.25 580.38,335.11 580.53,334.96 580.68,334.79 580.82,334.62 580.97,334.44 581.11,334.26 581.26,334.07 581.41,333.88 581.55,333.68 581.7,333.49 581.84,333.3 581.99,333.12 582.14,332.94 582.28,332.77 582.43,332.62 582.57,332.49 582.72,332.37 582.86,332.26 583.01,332.18 583.16,332.13 583.3,332.09 583.45,332.08 583.59,332.09 583.74,332.13 583.89,332.18 584.03,332.26 584.18,332.37 584.32,332.49 584.47,332.62 584.62,332.77 584.76,332.94 584.91,333.12 585.05,333.3 585.2,333.49 585.35,333.68 585.49,333.88 585.64,334.07 585.78,334.26 585.93,334.44 586.07,334.62 586.22,334.79 586.37,334.96 586.51,335.11 586.66,335.25 586.8,335.39 586.95,335.51 587.1,335.62 587.24,335.72 587.39,335.81 587.53,335.9 587.68,335.97 587.83,336.03 587.97,336.09 588.12,336.14 588.26,336.18 588.41,336.21 588.56,336.24 588.7,336.27 588.85,336.29 588.99,336.3 589.14,336.31 589.28,336.32 589.43,336.33 589.58,336.33 589.72,336.32 589.87,336.31 590.01,336.3 590.16,336.29 590.31,336.26 590.45,336.24 590.6,336.2 590.74,336.16 590.89,336.11 591.04,336.06 591.18,335.99 591.33,335.91 591.47,335.82 591.62,335.71 591.77,335.59 591.91,335.45 592.06,335.3 592.2,335.13 592.35,334.94 592.49,334.72 592.64,334.49 592.79,334.24 592.93,333.97 593.08,333.69 593.22,333.38 593.37,333.06 593.52,332.72 593.66,332.37 593.81,332.01 593.95,331.65 594.1,331.28 594.25,330.92 594.39,330.56 594.54,330.22 594.68,329.89 594.83,329.58 594.98,329.29 595.12,329.03 595.27,328.8 595.41,328.61 595.56,328.46 595.7,328.35 595.85,328.29 596,328.27 596.14,328.29 596.29,328.35 596.43,328.46 596.58,328.61 596.73,328.8 596.87,329.03 597.02,329.29 597.16,329.58 597.31,329.89 597.46,330.22 597.6,330.56 597.75,330.92 597.89,331.28 598.04,331.65 598.19,332.01 598.33,332.37 598.48,332.72 598.62,333.06 598.77,333.38 598.91,333.69 599.06,333.97 599.21,334.24 599.35,334.49 599.5,334.72 599.64,334.94 599.79,335.13 599.94,335.3 600.08,335.45 600.23,335.59 600.37,335.71 600.52,335.82 600.67,335.91 600.81,335.99 600.96,336.06 601.1,336.12 601.25,336.17 601.4,336.21 601.54,336.25 601.69,336.27 601.83,336.3 601.98,336.32 602.12,336.34 602.27,336.35 602.42,336.36 602.56,336.37 602.71,336.38 602.85,336.38 603,336.39 603.15,336.39 603.29,336.39 603.44,336.39 603.58,336.4 603.73,336.4 603.88,336.4 604.02,336.4 604.17,336.4 604.31,336.4 604.46,336.4 604.61,336.4 604.75,336.4 604.9,336.4 605.04,336.4 605.19,336.4 605.33,336.4 605.48,336.4 605.63,336.4 605.77,336.4 605.92,336.4 606.06,336.4 606.21,336.4 606.36,336.4 606.5,336.4 606.65,336.4 606.79,336.4 606.94,336.4 607.09,336.4 607.23,336.4 607.38,336.4 607.52,336.4 607.67,336.4 607.82,336.4 607.96,336.4 608.11,336.4 608.25,336.4 608.4,336.4 608.55,336.4 608.69,336.4 608.84,336.4 608.98,336.4 609.13,336.4 609.27,336.39 609.42,336.39 609.57,336.39 609.71,336.39 609.86,336.38 610,336.38 610.15,336.37 610.3,336.37 610.44,336.36 610.59,336.35 610.73,336.34 610.88,336.32 611.03,336.3 611.17,336.28 611.32,336.25 611.46,336.22 611.61,336.19 611.76,336.15 611.9,336.1 612.05,336.04 612.19,335.98 612.34,335.91 612.48,335.83 612.63,335.74 612.78,335.64 612.92,335.54 613.07,335.42 613.21,335.29 613.36,335.15 613.51,335 613.65,334.84 613.8,334.68 613.94,334.5 614.09,334.32 614.24,334.14 614.38,333.95 614.53,333.76 614.67,333.57 614.82,333.39 614.97,333.21 615.11,333.04 615.26,332.88 615.4,332.73 615.55,332.6 615.69,332.48 615.84,332.39 615.99,332.31 616.13,332.25 616.28,332.22 616.42,332.21 616.57,332.22 616.72,332.25 616.86,332.31 617.01,332.39 617.15,332.48 617.3,332.6 617.45,332.73 617.59,332.88 617.74,333.04 617.88,333.21 618.03,333.39 618.18,333.57 618.32,333.76 618.47,333.95 618.61,334.14 618.76,334.32 618.9,334.5 619.05,334.68 619.2,334.84 619.34,335 619.49,335.15 619.63,335.29 619.78,335.42 619.93,335.54 620.07,335.64 620.22,335.74 620.36,335.83 620.51,335.91 620.66,335.98 620.8,336.04 620.95,336.1 621.09,336.15 621.24,336.19 621.39,336.22 621.53,336.25 621.68,336.28 621.82,336.3 621.97,336.32 622.11,336.34 622.26,336.35 622.41,336.36 622.55,336.37 622.7,336.37 622.84,336.38 622.99,336.38 623.14,336.39 623.28,336.39 623.43,336.39 623.57,336.39 623.72,336.4 623.87,336.4 624.01,336.4 624.16,336.4 624.3,336.4 624.45,336.4 624.6,336.4 624.74,336.4 624.89,336.4 625.03,336.4 625.18,336.4 625.32,336.4 625.47,336.4 625.62,336.4 625.76,336.4 625.91,336.4 626.05,336.4 626.2,336.4 626.35,336.4 626.49,336.4 626.64,336.4 626.78,336.4 626.93,336.4 627.08,336.4 627.22,336.4 627.37,336.4 627.51,336.4 627.66,336.4 627.81,336.4 627.95,336.4 628.1,336.4 628.24,336.4 628.39,336.4 628.53,336.4 628.68,336.4 628.83,336.4 628.97,336.4 629.12,336.4 629.26,336.4 629.41,336.4 629.56,336.4 629.7,336.4 629.85,336.4 629.99,336.4 630.14,336.4 630.29,336.4 630.43,336.4 630.58,336.4 630.72,336.4 630.87,336.4 631.02,336.4 631.16,336.4 631.31,336.4 631.45,336.4 631.6,336.4 631.74,336.4 631.89,336.4 632.04,336.4 632.18,336.4 632.33,336.4 632.47,336.4 632.62,336.4 632.77,336.4 632.91,336.4 633.06,336.4 633.2,336.4 633.35,336.4 633.5,336.4 633.64,336.4 633.79,336.4 633.93,336.4 634.08,336.4 634.23,336.4 634.37,336.4 634.52,336.4 634.66,336.4 634.81,336.4 634.95,336.4 635.1,336.4 635.25,336.4 635.39,336.4 635.54,336.4 635.68,336.4 635.83,336.4 635.98,336.4 636.12,336.4 636.27,336.4 636.41,336.4 636.56,336.4 636.71,336.4 636.85,336.4 637,336.4 637.14,336.4 637.29,336.4 637.44,336.4 637.58,336.4 637.73,336.4 637.87,336.4 638.02,336.4 638.16,336.4 638.31,336.4 638.46,336.4 638.6,336.4 638.75,336.4 638.89,336.4 639.04,336.4 639.19,336.4 639.33,336.4 639.48,336.4 639.62,336.4 639.77,336.4 639.92,336.4 640.06,336.4 640.21,336.4 640.35,336.4 640.5,336.4 640.65,336.4 640.79,336.4 640.94,336.4 641.08,336.4 641.23,336.4 641.38,336.4 641.52,336.4 641.67,336.4 641.81,336.4 641.96,336.4 642.1,336.4 642.25,336.4 642.4,336.4 642.54,336.4 642.69,336.4 642.83,336.4 642.98,336.4 643.13,336.4 643.27,336.4 643.42,336.4 643.56,336.4 643.71,336.4 643.86,336.4 644,336.4 644.15,336.4 644.29,336.4 644.44,336.4 644.59,336.4 644.73,336.4 644.88,336.4 645.02,336.4 645.17,336.4 645.31,336.4 645.46,336.4 645.61,336.4 645.75,336.4 645.9,336.4 646.04,336.4 646.19,336.4 646.34,336.4 646.48,336.4 646.63,336.4 646.77,336.4 646.92,336.4 647.07,336.4 647.21,336.4 647.36,336.4 647.5,336.4 647.65,336.4 647.8,336.4 647.94,336.4 648.09,336.4 648.23,336.4 648.38,336.4 648.52,336.4 648.67,336.4 648.82,336.4 648.96,336.4 649.11,336.4 649.25,336.4 649.4,336.4 649.55,336.4 649.69,336.4 649.84,336.4 649.98,336.4 650.13,336.4 650.28,336.4 650.42,336.4 650.57,336.4 650.71,336.4 650.86,336.4 651.01,336.4 651.15,336.4 651.3,336.4 651.44,336.4 651.59,336.4 651.73,336.4 651.88,336.4 652.03,336.4 652.17,336.4 652.32,336.4 652.46,336.4 652.61,336.4 652.76,336.4 652.9,336.4 653.05,336.4 653.19,336.4 653.34,336.4 653.49,336.4 653.63,336.4 653.78,336.4 653.92,336.4 654.07,336.4 654.22,336.4 654.36,336.4 654.51,336.4 654.65,336.4 654.8,336.4 654.94,336.4 655.09,336.4 655.24,336.4 655.38,336.4 655.53,336.4 655.67,336.4 655.82,336.4 655.97,336.4 656.11,336.4 656.26,336.4 656.4,336.4 656.55,336.4 656.7,336.4 656.84,336.4 656.99,336.4 657.13,336.4 657.28,336.4 657.43,336.4 657.57,336.4 657.72,336.4 657.86,336.4 658.01,336.4 658.15,336.4 658.3,336.4 658.45,336.4 658.59,336.4 658.74,336.4 658.88,336.4 659.03,336.4 659.18,336.4 659.32,336.4 659.47,336.4 659.61,336.4 659.76,336.4 659.91,336.4 660.05,336.4 660.2,336.4 660.34,336.4 660.49,336.4 660.64,336.4 660.78,336.4 660.93,336.4 661.07,336.4 661.22,336.4 661.36,336.4 661.51,336.4 661.66,336.4 661.8,336.4 661.95,336.4 662.09,336.4 662.24,336.4 662.39,336.4 662.53,336.4 662.68,336.4 662.82,336.4 662.97,336.4 663.12,336.4 663.26,336.4 663.41,336.4 663.55,336.4 663.7,336.4 663.85,336.4 663.99,336.4 664.14,336.4 664.28,336.4 664.43,336.4 664.57,336.4 664.72,336.4 664.87,336.4 665.01,336.4 665.16,336.4 665.3,336.4 665.45,336.4 665.6,336.4 665.74,336.4 665.89,336.4 666.03,336.4 666.18,336.4 666.33,336.4 666.47,336.4 666.62,336.4 666.76,336.4 666.91,336.4 667.06,336.4 667.2,336.4 667.35,336.4 667.49,336.4 667.64,336.4 667.78,336.4 667.93,336.4 668.08,336.4 668.22,336.4 668.37,336.4 668.51,336.4 668.66,336.4 668.81,336.4 668.95,336.4 669.1,336.4 669.24,336.4 669.39,336.4 669.54,336.4 669.68,336.4 669.83,336.4 669.97,336.4 670.12,336.4 670.27,336.4 670.41,336.4 670.56,336.4 670.7,336.4 670.85,336.4 670.99,336.4 671.14,336.4 671.29,336.4 671.43,336.4 671.58,336.4 671.72,336.4 671.87,336.4 672.02,336.4 672.16,336.4 672.31,336.4 672.45,336.4 672.6,336.4" fill="none" stroke="#d3123f" stroke-width="1.5" stroke-linejoin="round"/><polyline points="344.3,336.4 344.45,336.4 344.59,336.4 344.74,336.4 344.88,336.4 345.03,336.4 345.18,336.4 345.32,336.4 345.47,336.4 345.61,336.4 345.76,336.4 345.91,336.4 346.05,336.4 346.2,336.4 346.34,336.4 346.49,336.4 346.63,336.4 346.78,336.4 346.93,336.4 347.07,336.4 347.22,336.4 347.36,336.4 347.51,336.4 347.66,336.4 347.8,336.4 347.95,336.4 348.09,336.4 348.24,336.4 348.39,336.4 348.53,336.4 348.68,336.4 348.82,336.4 348.97,336.4 349.12,336.4 349.26,336.4 349.41,336.4 349.55,336.4 349.7,336.4 349.84,336.4 349.99,336.4 350.14,336.4 350.28,336.4 350.43,336.4 350.57,336.4 350.72,336.4 350.87,336.4 351.01,336.4 351.16,336.4 351.3,336.4 351.45,336.4 351.6,336.4 351.74,336.4 351.89,336.4 352.03,336.4 352.18,336.4 352.33,336.4 352.47,336.4 352.62,336.4 352.76,336.4 352.91,336.4 353.05,336.39 353.2,336.39 353.35,336.39 353.49,336.38 353.64,336.38 353.78,336.37 353.93,336.37 354.08,336.36 354.22,336.34 354.37,336.33 354.51,336.31 354.66,336.28 354.81,336.25 354.95,336.21 355.1,336.17 355.24,336.11 355.39,336.04 355.54,335.96 355.68,335.87 355.83,335.75 355.97,335.62 356.12,335.46 356.26,335.28 356.41,335.06 356.56,334.82 356.7,334.54 356.85,334.23 356.99,333.87 357.14,333.47 357.29,333.03 357.43,332.54 357.58,332.01 357.72,331.43 357.87,330.8 358.02,330.13 358.16,329.41 358.31,328.65 358.45,327.86 358.6,327.04 358.75,326.2 358.89,325.33 359.04,324.46 359.18,323.6 359.33,322.74 359.47,321.9 359.62,321.1 359.77,320.33 359.91,319.62 360.06,318.98 360.2,318.4 360.35,317.91 360.5,317.5 360.64,317.2 360.79,316.99 360.93,316.88 361.08,316.88 361.23,316.99 361.37,317.2 361.52,317.51 361.66,317.91 361.81,318.41 361.96,318.98 362.1,319.63 362.25,320.34 362.39,321.1 362.54,321.91 362.68,322.74 362.83,323.6 362.98,324.47 363.12,325.34 363.27,326.2 363.41,327.05 363.56,327.87 363.71,328.66 363.85,329.42 364,330.13 364.14,330.8 364.29,331.43 364.44,332.01 364.58,332.54 364.73,333.03 364.87,333.47 365.02,333.87 365.17,334.22 365.31,334.53 365.46,334.81 365.6,335.05 365.75,335.26 365.89,335.43 366.04,335.58 366.19,335.71 366.33,335.81 366.48,335.89 366.62,335.95 366.77,335.99 366.92,336.01 367.06,336.02 367.21,336.02 367.35,335.99 367.5,335.95 367.65,335.89 367.79,335.82 367.94,335.72 368.08,335.6 368.23,335.47 368.38,335.3 368.52,335.12 368.67,334.9 368.81,334.65 368.96,334.38 369.1,334.07 369.25,333.72 369.4,333.35 369.54,332.93 369.69,332.48 369.83,332 369.98,331.49 370.13,330.94 370.27,330.36 370.42,329.77 370.56,329.15 370.71,328.51 370.86,327.87 371,327.22 371.15,326.58 371.29,325.94 371.44,325.33 371.59,324.75 371.73,324.2 371.88,323.69 372.02,323.23 372.17,322.84 372.31,322.5 372.46,322.23 372.61,322.04 372.75,321.92 372.9,321.88 373.04,321.91 373.19,322.03 373.34,322.22 373.48,322.49 373.63,322.82 373.77,323.21 373.92,323.67 374.07,324.17 374.21,324.72 374.36,325.3 374.5,325.91 374.65,326.55 374.8,327.19 374.94,327.84 375.09,328.48 375.23,329.12 375.38,329.74 375.52,330.34 375.67,330.91 375.82,331.46 375.96,331.98 376.11,332.46 376.25,332.91 376.4,333.33 376.55,333.71 376.69,334.06 376.84,334.37 376.98,334.65 377.13,334.9 377.28,335.12 377.42,335.31 377.57,335.48 377.71,335.63 377.86,335.76 378.01,335.87 378.15,335.96 378.3,336.04 378.44,336.11 378.59,336.16 378.74,336.21 378.88,336.24 379.03,336.28 379.17,336.3 379.32,336.32 379.46,336.34 379.61,336.35 379.76,336.36 379.9,336.37 380.05,336.38 380.19,336.38 380.34,336.39 380.49,336.39 380.63,336.39 380.78,336.39 380.92,336.4 381.07,336.4 381.22,336.4 381.36,336.4 381.51,336.4 381.65,336.4 381.8,336.4 381.95,336.4 382.09,336.4 382.24,336.4 382.38,336.4 382.53,336.4 382.67,336.4 382.82,336.4 382.97,336.4 383.11,336.4 383.26,336.4 383.4,336.4 383.55,336.4 383.7,336.4 383.84,336.4 383.99,336.4 384.13,336.4 384.28,336.4 384.43,336.4 384.57,336.4 384.72,336.4 384.86,336.4 385.01,336.4 385.16,336.4 385.3,336.4 385.45,336.4 385.59,336.4 385.74,336.4 385.88,336.4 386.03,336.39 386.18,336.39 386.32,336.39 386.47,336.38 386.61,336.38 386.76,336.37 386.91,336.36 387.05,336.35 387.2,336.34 387.34,336.32 387.49,336.29 387.64,336.26 387.78,336.23 387.93,336.18 388.07,336.12 388.22,336.04 388.37,335.95 388.51,335.84 388.66,335.7 388.8,335.54 388.95,335.34 389.09,335.11 389.24,334.83 389.39,334.5 389.53,334.11 389.68,333.67 389.82,333.15 389.97,332.55 390.12,331.86 390.26,331.09 390.41,330.21 390.55,329.23 390.7,328.14 390.85,326.94 390.99,325.62 391.14,324.18 391.28,322.62 391.43,320.94 391.58,319.16 391.72,317.27 391.87,315.3 392.01,313.24 392.16,311.12 392.3,308.96 392.45,306.77 392.6,304.58 392.74,302.41 392.89,300.29 393.03,298.24 393.18,296.29 393.33,294.48 393.47,292.81 393.62,291.33 393.76,290.05 393.91,288.98 394.06,288.16 394.2,287.58 394.35,287.26 394.49,287.21 394.64,287.42 394.79,287.9 394.93,288.63 395.08,289.6 395.22,290.8 395.37,292.21 395.51,293.81 395.66,295.57 395.81,297.46 395.95,299.48 396.1,301.57 396.24,303.72 396.39,305.91 396.54,308.1 396.68,310.28 396.83,312.42 396.97,314.5 397.12,316.51 397.27,318.43 397.41,320.26 397.56,321.97 397.7,323.58 397.85,325.07 398,326.43 398.14,327.69 398.29,328.82 398.43,329.84 398.58,330.76 398.72,331.57 398.87,332.29 399.02,332.92 399.16,333.47 399.31,333.95 399.45,334.36 399.6,334.71 399.75,335 399.89,335.26 400.04,335.47 400.18,335.64 400.33,335.79 400.48,335.91 400.62,336.01 400.77,336.09 400.91,336.16 401.06,336.21 401.21,336.25 401.35,336.28 401.5,336.31 401.64,336.33 401.79,336.35 401.93,336.36 402.08,336.37 402.23,336.38 402.37,336.38 402.52,336.39 402.66,336.39 402.81,336.39 402.96,336.39 403.1,336.4 403.25,336.4 403.39,336.4 403.54,336.4 403.69,336.4 403.83,336.4 403.98,336.4 404.12,336.4 404.27,336.4 404.42,336.4 404.56,336.4 404.71,336.4 404.85,336.4 405,336.4 405.14,336.4 405.29,336.4 405.44,336.4 405.58,336.4 405.73,336.4 405.87,336.4 406.02,336.4 406.17,336.4 406.31,336.39 406.46,336.39 406.6,336.39 406.75,336.39 406.9,336.38 407.04,336.38 407.19,336.38 407.33,336.37 407.48,336.36 407.63,336.35 407.77,336.34 407.92,336.33 408.06,336.32 408.21,336.3 408.35,336.28 408.5,336.26 408.65,336.23 408.79,336.2 408.94,336.16 409.08,336.12 409.23,336.08 409.38,336.03 409.52,335.98 409.67,335.92 409.81,335.85 409.96,335.78 410.11,335.71 410.25,335.63 410.4,335.54 410.54,335.45 410.69,335.36 410.84,335.26 410.98,335.16 411.13,335.06 411.27,334.96 411.42,334.86 411.57,334.76 411.71,334.67 411.86,334.58 412,334.49 412.15,334.42 412.29,334.35 412.44,334.29 412.59,334.23 412.73,334.19 412.88,334.16 413.02,334.14 413.17,334.14 413.32,334.14 413.46,334.15 413.61,334.18 413.75,334.21 413.9,334.25 414.05,334.3 414.19,334.35 414.34,334.4 414.48,334.45 414.63,334.49 414.78,334.53 414.92,334.55 415.07,334.55 415.21,334.53 415.36,334.48 415.5,334.4 415.65,334.26 415.8,334.08 415.94,333.82 416.09,333.5 416.23,333.08 416.38,332.56 416.53,331.93 416.67,331.16 416.82,330.25 416.96,329.17 417.11,327.9 417.26,326.43 417.4,324.74 417.55,322.81 417.69,320.62 417.84,318.16 417.99,315.41 418.13,312.36 418.28,309.01 418.42,305.35 418.57,301.38 418.71,297.11 418.86,292.55 419.01,287.73 419.15,282.66 419.3,277.38 419.44,271.94 419.59,266.36 419.74,260.71 419.88,255.05 420.03,249.44 420.17,243.94 420.32,238.62 420.47,233.55 420.61,228.8 420.76,224.44 420.9,220.53 421.05,217.13 421.2,214.29 421.34,212.06 421.49,210.47 421.63,209.55 421.78,209.3 421.92,209.75 422.07,210.87 422.22,212.66 422.36,215.07 422.51,218.08 422.65,221.64 422.8,225.69 422.95,230.17 423.09,235.01 423.24,240.16 423.38,245.53 423.53,251.06 423.68,256.68 423.82,262.33 423.97,267.94 424.11,273.45 424.26,278.82 424.41,284.01 424.55,288.96 424.7,293.66 424.84,298.07 424.99,302.18 425.13,305.97 425.28,309.45 425.43,312.61 425.57,315.44 425.72,317.97 425.86,320.21 426.01,322.15 426.16,323.83 426.3,325.26 426.45,326.45 426.59,327.43 426.74,328.22 426.89,328.83 427.03,329.29 427.18,329.6 427.32,329.8 427.47,329.89 427.62,329.89 427.76,329.82 427.91,329.7 428.05,329.52 428.2,329.32 428.34,329.1 428.49,328.86 428.64,328.63 428.78,328.4 428.93,328.19 429.07,328.01 429.22,327.85 429.37,327.73 429.51,327.64 429.66,327.6 429.8,327.6 429.95,327.65 430.1,327.74 430.24,327.87 430.39,328.05 430.53,328.27 430.68,328.52 430.83,328.8 430.97,329.12 431.12,329.46 431.26,329.82 431.41,330.19 431.55,330.57 431.7,330.96 431.85,331.35 431.99,331.74 432.14,332.12 432.28,332.49 432.43,332.85 432.58,333.19 432.72,333.52 432.87,333.83 433.01,334.11 433.16,334.38 433.31,334.62 433.45,334.84 433.6,335.05 433.74,335.23 433.89,335.39 434.04,335.54 434.18,335.67 434.33,335.78 434.47,335.88 434.62,335.96 434.76,336.03 434.91,336.1 435.06,336.15 435.2,336.2 435.35,336.23 435.49,336.26 435.64,336.29 435.79,336.31 435.93,336.33 436.08,336.34 436.22,336.36 436.37,336.37 436.52,336.37 436.66,336.38 436.81,336.38 436.95,336.39 437.1,336.39 437.25,336.39 437.39,336.39 437.54,336.4 437.68,336.4 437.83,336.4 437.97,336.4 438.12,336.4 438.27,336.4 438.41,336.4 438.56,336.4 438.7,336.4 438.85,336.4 439,336.4 439.14,336.4 439.29,336.4 439.43,336.4 439.58,336.4 439.73,336.4 439.87,336.4 440.02,336.4 440.16,336.4 440.31,336.4 440.46,336.4 440.6,336.4 440.75,336.4 440.89,336.4 441.04,336.4 441.18,336.4 441.33,336.4 441.48,336.4 441.62,336.4 441.77,336.4 441.91,336.4 442.06,336.4 442.21,336.4 442.35,336.4 442.5,336.4 442.64,336.4 442.79,336.4 442.94,336.4 443.08,336.4 443.23,336.4 443.37,336.4 443.52,336.4 443.67,336.4 443.81,336.4 443.96,336.4 444.1,336.4 444.25,336.4 444.4,336.4 444.54,336.4 444.69,336.4 444.83,336.4 444.98,336.4 445.12,336.4 445.27,336.4 445.42,336.4 445.56,336.4 445.71,336.4 445.85,336.4 446,336.4 446.15,336.4 446.29,336.4 446.44,336.4 446.58,336.4 446.73,336.4 446.88,336.4 447.02,336.4 447.17,336.4 447.31,336.4 447.46,336.4 447.61,336.4 447.75,336.4 447.9,336.4 448.04,336.4 448.19,336.4 448.33,336.4 448.48,336.4 448.63,336.4 448.77,336.4 448.92,336.4 449.06,336.4 449.21,336.4 449.36,336.4 449.5,336.4 449.65,336.4 449.79,336.4 449.94,336.4 450.09,336.4 450.23,336.4 450.38,336.4 450.52,336.4 450.67,336.4 450.82,336.4 450.96,336.4 451.11,336.4 451.25,336.4 451.4,336.4 451.54,336.4 451.69,336.4 451.84,336.4 451.98,336.4 452.13,336.39 452.27,336.39 452.42,336.39 452.57,336.39 452.71,336.38 452.86,336.37 453,336.37 453.15,336.36 453.3,336.34 453.44,336.32 453.59,336.3 453.73,336.27 453.88,336.23 454.03,336.18 454.17,336.12 454.32,336.05 454.46,335.96 454.61,335.85 454.75,335.71 454.9,335.54 455.05,335.34 455.19,335.1 455.34,334.81 455.48,334.47 455.63,334.07 455.78,333.6 455.92,333.05 456.07,332.42 456.21,331.7 456.36,330.87 456.51,329.93 456.65,328.87 456.8,327.69 456.94,326.38 457.09,324.93 457.24,323.34 457.38,321.61 457.53,319.75 457.67,317.75 457.82,315.62 457.96,313.37 458.11,311.02 458.26,308.58 458.4,306.07 458.55,303.51 458.69,300.93 458.84,298.35 458.99,295.81 459.13,293.32 459.28,290.94 459.42,288.67 459.57,286.57 459.72,284.65 459.86,282.95 460.01,281.5 460.15,280.3 460.3,279.39 460.45,278.78 460.59,278.47 460.74,278.48 460.88,278.8 461.03,279.42 461.17,280.35 461.32,281.55 461.47,283.02 461.61,284.73 461.76,286.65 461.9,288.76 462.05,291.03 462.2,293.42 462.34,295.91 462.49,298.46 462.63,301.04 462.78,303.62 462.93,306.18 463.07,308.68 463.22,311.12 463.36,313.47 463.51,315.71 463.66,317.83 463.8,319.83 463.95,321.69 464.09,323.41 464.24,324.99 464.38,326.43 464.53,327.74 464.68,328.92 464.82,329.97 464.97,330.9 465.11,331.73 465.26,332.45 465.41,333.08 465.55,333.62 465.7,334.09 465.84,334.49 465.99,334.82 466.14,335.11 466.28,335.35 466.43,335.55 466.57,335.72 466.72,335.85 466.87,335.96 467.01,336.05 467.16,336.13 467.3,336.19 467.45,336.23 467.59,336.27 467.74,336.3 467.89,336.32 468.03,336.34 468.18,336.36 468.32,336.37 468.47,336.37 468.62,336.38 468.76,336.39 468.91,336.39 469.05,336.39 469.2,336.39 469.35,336.4 469.49,336.4 469.64,336.4 469.78,336.4 469.93,336.4 470.08,336.4 470.22,336.4 470.37,336.4 470.51,336.4 470.66,336.4 470.8,336.4 470.95,336.4 471.1,336.4 471.24,336.4 471.39,336.4 471.53,336.4 471.68,336.4 471.83,336.4 471.97,336.4 472.12,336.4 472.26,336.4 472.41,336.4 472.56,336.4 472.7,336.4 472.85,336.4 472.99,336.4 473.14,336.4 473.29,336.4 473.43,336.4 473.58,336.4 473.72,336.4 473.87,336.4 474.01,336.4 474.16,336.4 474.31,336.4 474.45,336.4 474.6,336.4 474.74,336.4 474.89,336.4 475.04,336.4 475.18,336.4 475.33,336.4 475.47,336.4 475.62,336.4 475.77,336.4 475.91,336.4 476.06,336.4 476.2,336.4 476.35,336.4 476.5,336.4 476.64,336.4 476.79,336.4 476.93,336.4 477.08,336.4 477.23,336.4 477.37,336.4 477.52,336.4 477.66,336.4 477.81,336.4 477.95,336.4 478.1,336.4 478.25,336.4 478.39,336.4 478.54,336.4 478.68,336.4 478.83,336.4 478.98,336.4 479.12,336.4 479.27,336.4 479.41,336.4 479.56,336.4 479.71,336.4 479.85,336.4 480,336.4 480.14,336.4 480.29,336.4 480.44,336.4 480.58,336.4 480.73,336.4 480.87,336.4 481.02,336.4 481.16,336.4 481.31,336.4 481.46,336.4 481.6,336.4 481.75,336.4 481.89,336.4 482.04,336.4 482.19,336.4 482.33,336.4 482.48,336.4 482.62,336.4 482.77,336.4 482.92,336.4 483.06,336.4 483.21,336.4 483.35,336.4 483.5,336.4 483.65,336.4 483.79,336.4 483.94,336.4 484.08,336.4 484.23,336.4 484.37,336.4 484.52,336.4 484.67,336.4 484.81,336.4 484.96,336.4 485.1,336.4 485.25,336.4 485.4,336.4 485.54,336.4 485.69,336.4 485.83,336.4 485.98,336.4 486.13,336.4 486.27,336.4 486.42,336.39 486.56,336.39 486.71,336.39 486.86,336.39 487,336.38 487.15,336.38 487.29,336.37 487.44,336.37 487.58,336.36 487.73,336.35 487.88,336.34 488.02,336.32 488.17,336.3 488.31,336.28 488.46,336.26 488.61,336.23 488.75,336.19 488.9,336.15 489.04,336.11 489.19,336.05 489.34,335.99 489.48,335.93 489.63,335.85 489.77,335.76 489.92,335.67 490.07,335.57 490.21,335.45 490.36,335.33 490.5,335.2 490.65,335.05 490.79,334.9 490.94,334.75 491.09,334.58 491.23,334.41 491.38,334.24 491.52,334.06 491.67,333.88 491.82,333.7 491.96,333.53 492.11,333.36 492.25,333.2 492.4,333.04 492.55,332.9 492.69,332.78 492.84,332.66 492.98,332.57 493.13,332.5 493.28,332.44 493.42,332.41 493.57,332.39 493.71,332.4 493.86,332.43 494,332.48 494.15,332.56 494.3,332.65 494.44,332.75 494.59,332.88 494.73,333.02 494.88,333.17 495.03,333.33 495.17,333.5 495.32,333.67 495.46,333.85 495.61,334.03 495.76,334.2 495.9,334.38 496.05,334.55 496.19,334.72 496.34,334.88 496.49,335.03 496.63,335.17 496.78,335.31 496.92,335.43 497.07,335.55 497.21,335.65 497.36,335.75 497.51,335.83 497.65,335.91 497.8,335.98 497.94,336.04 498.09,336.1 498.24,336.14 498.38,336.19 498.53,336.22 498.67,336.25 498.82,336.28 498.97,336.3 499.11,336.32 499.26,336.33 499.4,336.35 499.55,336.36 499.7,336.37 499.84,336.37 499.99,336.38 500.13,336.38 500.28,336.39 500.42,336.39 500.57,336.39 500.72,336.39 500.86,336.4 501.01,336.4 501.15,336.4 501.3,336.4 501.45,336.4 501.59,336.4 501.74,336.4 501.88,336.4 502.03,336.4 502.18,336.4 502.32,336.4 502.47,336.4 502.61,336.4 502.76,336.4 502.91,336.4 503.05,336.4 503.2,336.4 503.34,336.4 503.49,336.39 503.63,336.39 503.78,336.39 503.93,336.39 504.07,336.38 504.22,336.38 504.36,336.37 504.51,336.37 504.66,336.36 504.8,336.34 504.95,336.33 505.09,336.31 505.24,336.29 505.39,336.26 505.53,336.22 505.68,336.18 505.82,336.13 505.97,336.07 506.12,336 506.26,335.91 506.41,335.81 506.55,335.69 506.7,335.55 506.84,335.4 506.99,335.22 507.14,335.01 507.28,334.78 507.43,334.52 507.57,334.22 507.72,333.9 507.87,333.54 508.01,333.16 508.16,332.73 508.3,332.28 508.45,331.79 508.6,331.28 508.74,330.73 508.89,330.17 509.03,329.58 509.18,328.98 509.33,328.37 509.47,327.76 509.62,327.14 509.76,326.54 509.91,325.96 510.06,325.4 510.2,324.88 510.35,324.39 510.49,323.96 510.64,323.57 510.78,323.25 510.93,322.99 511.08,322.8 511.22,322.68 511.37,322.63 511.51,322.66 511.66,322.76 511.81,322.93 511.95,323.18 512.1,323.49 512.24,323.86 512.39,324.28 512.54,324.75 512.68,325.27 512.83,325.82 512.97,326.4 513.12,326.99 513.27,327.6 513.41,328.22 513.56,328.83 513.7,329.43 513.85,330.02 513.99,330.59 514.14,331.14 514.29,331.67 514.43,332.16 514.58,332.62 514.72,333.05 514.87,333.45 515.02,333.81 515.16,334.15 515.31,334.45 515.45,334.71 515.6,334.95 515.75,335.17 515.89,335.35 516.04,335.52 516.18,335.66 516.33,335.78 516.48,335.89 516.62,335.98 516.77,336.05 516.91,336.12 517.06,336.17 517.2,336.21 517.35,336.25 517.5,336.28 517.64,336.3 517.79,336.32 517.93,336.34 518.08,336.35 518.23,336.36 518.37,336.37 518.52,336.38 518.66,336.38 518.81,336.39 518.96,336.39 519.1,336.39 519.25,336.39 519.39,336.39 519.54,336.4 519.69,336.4 519.83,336.39 519.98,336.39 520.12,336.39 520.27,336.39 520.41,336.39 520.56,336.38 520.71,336.38 520.85,336.37 521,336.36 521.14,336.35 521.29,336.33 521.44,336.32 521.58,336.29 521.73,336.26 521.87,336.22 522.02,336.17 522.17,336.11 522.31,336.04 522.46,335.95 522.6,335.85 522.75,335.71 522.9,335.56 523.04,335.37 523.19,335.15 523.33,334.89 523.48,334.59 523.62,334.23 523.77,333.82 523.92,333.35 524.06,332.81 524.21,332.2 524.35,331.52 524.5,330.75 524.65,329.9 524.79,328.96 524.94,327.92 525.08,326.8 525.23,325.59 525.38,324.28 525.52,322.9 525.67,321.44 525.81,319.91 525.96,318.32 526.11,316.68 526.25,315.01 526.4,313.33 526.54,311.65 526.69,309.99 526.83,308.36 526.98,306.8 527.13,305.33 527.27,303.95 527.42,302.69 527.56,301.58 527.71,300.62 527.86,299.84 528,299.23 528.15,298.83 528.29,298.62 528.44,298.62 528.59,298.82 528.73,299.22 528.88,299.81 529.02,300.59 529.17,301.54 529.32,302.65 529.46,303.9 529.61,305.27 529.75,306.75 529.9,308.31 530.04,309.93 530.19,311.59 530.34,313.27 530.48,314.95 530.63,316.62 530.77,318.26 530.92,319.85 531.07,321.38 531.21,322.85 531.36,324.24 531.5,325.54 531.65,326.76 531.8,327.88 531.94,328.92 532.09,329.86 532.23,330.72 532.38,331.49 532.53,332.18 532.67,332.79 532.82,333.33 532.96,333.81 533.11,334.22 533.25,334.57 533.4,334.88 533.55,335.14 533.69,335.36 533.84,335.55 533.98,335.71 534.13,335.84 534.28,335.95 534.42,336.04 534.57,336.11 534.71,336.17 534.86,336.22 535.01,336.26 535.15,336.29 535.3,336.31 535.44,336.33 535.59,336.35 535.74,336.36 535.88,336.37 536.03,336.38 536.17,336.38 536.32,336.39 536.46,336.39 536.61,336.39 536.76,336.4 536.9,336.4 537.05,336.4 537.19,336.4 537.34,336.4 537.49,336.4 537.63,336.4 537.78,336.4 537.92,336.4 538.07,336.4 538.22,336.4 538.36,336.4 538.51,336.4 538.65,336.4 538.8,336.4 538.95,336.4 539.09,336.4 539.24,336.4 539.38,336.4 539.53,336.4 539.67,336.4 539.82,336.4 539.97,336.4 540.11,336.4 540.26,336.4 540.4,336.4 540.55,336.4 540.7,336.4 540.84,336.4 540.99,336.4 541.13,336.4 541.28,336.4 541.43,336.4 541.57,336.4 541.72,336.4 541.86,336.4 542.01,336.4 542.16,336.4 542.3,336.4 542.45,336.4 542.59,336.4 542.74,336.4 542.89,336.4 543.03,336.4 543.18,336.4 543.32,336.4 543.47,336.4 543.61,336.4 543.76,336.4 543.91,336.4 544.05,336.4 544.2,336.4 544.34,336.4 544.49,336.4 544.64,336.4 544.78,336.4 544.93,336.4 545.07,336.4 545.22,336.4 545.37,336.4 545.51,336.4 545.66,336.4 545.8,336.39 545.95,336.39 546.1,336.39 546.24,336.39 546.39,336.38 546.53,336.38 546.68,336.37 546.82,336.36 546.97,336.34 547.12,336.33 547.26,336.3 547.41,336.27 547.55,336.24 547.7,336.19 547.85,336.13 547.99,336.06 548.14,335.96 548.28,335.85 548.43,335.71 548.58,335.54 548.72,335.33 548.87,335.08 549.01,334.78 549.16,334.42 549.31,334 549.45,333.5 549.6,332.91 549.74,332.23 549.89,331.45 550.03,330.55 550.18,329.52 550.33,328.35 550.47,327.04 550.62,325.57 550.76,323.93 550.91,322.13 551.06,320.16 551.2,318.01 551.35,315.69 551.49,313.2 551.64,310.56 551.79,307.77 551.93,304.85 552.08,301.82 552.22,298.7 552.37,295.52 552.52,292.31 552.66,289.11 552.81,285.95 552.95,282.87 553.1,279.91 553.24,277.1 553.39,274.49 553.54,272.11 553.68,270 553.83,268.2 553.97,266.72 554.12,265.59 554.27,264.83 554.41,264.46 554.56,264.47 554.7,264.87 554.85,265.65 555,266.8 555.14,268.3 555.29,270.13 555.43,272.26 555.58,274.65 555.73,277.27 555.87,280.09 556.02,283.06 556.16,286.15 556.31,289.32 556.45,292.52 556.6,295.73 556.75,298.9 556.89,302.01 557.04,305.04 557.18,307.95 557.33,310.73 557.48,313.37 557.62,315.84 557.77,318.15 557.91,320.29 558.06,322.25 558.21,324.04 558.35,325.67 558.5,327.12 558.64,328.43 558.79,329.59 558.94,330.61 559.08,331.5 559.23,332.28 559.37,332.96 559.52,333.53 559.66,334.03 559.81,334.45 559.96,334.8 560.1,335.1 560.25,335.35 560.39,335.55 560.54,335.72 560.69,335.86 560.83,335.97 560.98,336.06 561.12,336.13 561.27,336.19 561.42,336.24 561.56,336.28 561.71,336.31 561.85,336.33 562,336.35 562.15,336.36 562.29,336.37 562.44,336.38 562.58,336.38 562.73,336.39 562.87,336.39 563.02,336.39 563.17,336.4 563.31,336.4 563.46,336.4 563.6,336.4 563.75,336.4 563.9,336.4 564.04,336.4 564.19,336.4 564.33,336.4 564.48,336.4 564.63,336.4 564.77,336.4 564.92,336.4 565.06,336.4 565.21,336.4 565.36,336.4 565.5,336.4 565.65,336.4 565.79,336.4 565.94,336.4 566.08,336.4 566.23,336.4 566.38,336.4 566.52,336.4 566.67,336.4 566.81,336.4 566.96,336.4 567.11,336.4 567.25,336.4 567.4,336.4 567.54,336.4 567.69,336.4 567.84,336.4 567.98,336.4 568.13,336.4 568.27,336.4 568.42,336.4 568.57,336.4 568.71,336.4 568.86,336.4 569,336.4 569.15,336.4 569.29,336.4 569.44,336.4 569.59,336.4 569.73,336.4 569.88,336.4 570.02,336.4 570.17,336.4 570.32,336.4 570.46,336.4 570.61,336.4 570.75,336.4 570.9,336.4 571.05,336.4 571.19,336.4 571.34,336.4 571.48,336.4 571.63,336.4 571.78,336.4 571.92,336.4 572.07,336.4 572.21,336.4 572.36,336.4 572.5,336.4 572.65,336.4 572.8,336.4 572.94,336.4 573.09,336.4 573.23,336.4 573.38,336.4 573.53,336.4 573.67,336.4 573.82,336.4 573.96,336.4 574.11,336.4 574.26,336.4 574.4,336.4 574.55,336.4 574.69,336.4 574.84,336.4 574.99,336.4 575.13,336.4 575.28,336.4 575.42,336.4 575.57,336.4 575.72,336.4 575.86,336.4 576.01,336.4 576.15,336.4 576.3,336.4 576.44,336.4 576.59,336.4 576.74,336.4 576.88,336.4 577.03,336.4 577.17,336.4 577.32,336.4 577.47,336.4 577.61,336.4 577.76,336.4 577.9,336.4 578.05,336.4 578.2,336.4 578.34,336.4 578.49,336.4 578.63,336.4 578.78,336.4 578.93,336.4 579.07,336.4 579.22,336.4 579.36,336.4 579.51,336.4 579.65,336.4 579.8,336.4 579.95,336.4 580.09,336.4 580.24,336.4 580.38,336.4 580.53,336.4 580.68,336.4 580.82,336.4 580.97,336.4 581.11,336.4 581.26,336.4 581.41,336.4 581.55,336.4 581.7,336.4 581.84,336.4 581.99,336.4 582.14,336.4 582.28,336.4 582.43,336.4 582.57,336.4 582.72,336.4 582.86,336.4 583.01,336.4 583.16,336.4 583.3,336.4 583.45,336.4 583.59,336.4 583.74,336.4 583.89,336.4 584.03,336.4 584.18,336.4 584.32,336.4 584.47,336.4 584.62,336.4 584.76,336.4 584.91,336.4 585.05,336.39 585.2,336.39 585.35,336.39 585.49,336.39 585.64,336.39 585.78,336.38 585.93,336.38 586.07,336.37 586.22,336.36 586.37,336.35 586.51,336.34 586.66,336.33 586.8,336.31 586.95,336.29 587.1,336.27 587.24,336.24 587.39,336.21 587.53,336.17 587.68,336.13 587.83,336.08 587.97,336.02 588.12,335.96 588.26,335.88 588.41,335.8 588.56,335.71 588.7,335.61 588.85,335.49 588.99,335.37 589.14,335.24 589.28,335.1 589.43,334.94 589.58,334.78 589.72,334.61 589.87,334.44 590.01,334.25 590.16,334.07 590.31,333.88 590.45,333.69 590.6,333.5 590.74,333.32 590.89,333.14 591.04,332.97 591.18,332.81 591.33,332.66 591.47,332.53 591.62,332.41 591.77,332.32 591.91,332.24 592.06,332.19 592.2,332.15 592.35,332.14 592.49,332.16 592.64,332.19 592.79,332.25 592.93,332.33 593.08,332.43 593.22,332.55 593.37,332.68 593.52,332.83 593.66,332.99 593.81,333.17 593.95,333.35 594.1,333.53 594.25,333.72 594.39,333.91 594.54,334.1 594.68,334.28 594.83,334.47 594.98,334.64 595.12,334.81 595.27,334.97 595.41,335.12 595.56,335.26 595.7,335.39 595.85,335.51 596,335.62 596.14,335.72 596.29,335.81 596.43,335.89 596.58,335.97 596.73,336.03 596.87,336.09 597.02,336.13 597.16,336.18 597.31,336.21 597.46,336.24 597.6,336.27 597.75,336.29 597.89,336.31 598.04,336.32 598.19,336.33 598.33,336.34 598.48,336.34 598.62,336.34 598.77,336.34 598.91,336.33 599.06,336.32 599.21,336.31 599.35,336.29 599.5,336.27 599.64,336.24 599.79,336.2 599.94,336.16 600.08,336.11 600.23,336.05 600.37,335.99 600.52,335.91 600.67,335.81 600.81,335.71 600.96,335.59 601.1,335.45 601.25,335.3 601.4,335.13 601.54,334.94 601.69,334.74 601.83,334.51 601.98,334.26 602.12,334 602.27,333.72 602.42,333.42 602.56,333.1 602.71,332.77 602.85,332.43 603,332.08 603.15,331.72 603.29,331.37 603.44,331.01 603.58,330.66 603.73,330.32 603.88,330 604.02,329.69 604.17,329.41 604.31,329.16 604.46,328.93 604.61,328.75 604.75,328.59 604.9,328.48 605.04,328.41 605.19,328.39 605.33,328.4 605.48,328.46 605.63,328.57 605.77,328.71 605.92,328.89 606.06,329.1 606.21,329.35 606.36,329.63 606.5,329.93 606.65,330.25 606.79,330.58 606.94,330.93 607.09,331.29 607.23,331.64 607.38,332 607.52,332.35 607.67,332.69 607.82,333.03 607.96,333.35 608.11,333.65 608.25,333.94 608.4,334.21 608.55,334.46 608.69,334.69 608.84,334.9 608.98,335.09 609.13,335.26 609.27,335.42 609.42,335.56 609.57,335.68 609.71,335.79 609.86,335.89 610,335.97 610.15,336.04 610.3,336.1 610.44,336.15 610.59,336.2 610.73,336.23 610.88,336.27 611.03,336.29 611.17,336.31 611.32,336.33 611.46,336.34 611.61,336.36 611.76,336.37 611.9,336.37 612.05,336.38 612.19,336.38 612.34,336.39 612.48,336.39 612.63,336.39 612.78,336.39 612.92,336.4 613.07,336.4 613.21,336.4 613.36,336.4 613.51,336.4 613.65,336.4 613.8,336.4 613.94,336.4 614.09,336.4 614.24,336.4 614.38,336.4 614.53,336.4 614.67,336.4 614.82,336.4 614.97,336.4 615.11,336.4 615.26,336.4 615.4,336.4 615.55,336.4 615.69,336.4 615.84,336.4 615.99,336.4 616.13,336.4 616.28,336.4 616.42,336.4 616.57,336.4 616.72,336.4 616.86,336.4 617.01,336.4 617.15,336.4 617.3,336.4 617.45,336.4 617.59,336.4 617.74,336.4 617.88,336.4 618.03,336.4 618.18,336.4 618.32,336.4 618.47,336.4 618.61,336.4 618.76,336.4 618.9,336.39 619.05,336.39 619.2,336.39 619.34,336.39 619.49,336.39 619.63,336.38 619.78,336.38 619.93,336.37 620.07,336.36 620.22,336.35 620.36,336.34 620.51,336.33 620.66,336.31 620.8,336.29 620.95,336.27 621.09,336.24 621.24,336.21 621.39,336.17 621.53,336.13 621.68,336.08 621.82,336.02 621.97,335.95 622.11,335.88 622.26,335.8 622.41,335.71 622.55,335.6 622.7,335.49 622.84,335.37 622.99,335.24 623.14,335.1 623.28,334.95 623.43,334.79 623.57,334.63 623.72,334.45 623.87,334.28 624.01,334.09 624.16,333.91 624.3,333.73 624.45,333.54 624.6,333.37 624.74,333.19 624.89,333.03 625.03,332.88 625.18,332.74 625.32,332.61 625.47,332.51 625.62,332.42 625.76,332.35 625.91,332.3 626.05,332.27 626.2,332.27 626.35,332.29 626.49,332.33 626.64,332.39 626.78,332.47 626.93,332.57 627.08,332.69 627.22,332.83 627.37,332.97 627.51,333.13 627.66,333.3 627.81,333.48 627.95,333.66 628.1,333.84 628.24,334.03 628.39,334.21 628.53,334.39 628.68,334.56 628.83,334.73 628.97,334.89 629.12,335.05 629.26,335.19 629.41,335.33 629.56,335.45 629.7,335.56 629.85,335.67 629.99,335.76 630.14,335.85 630.29,335.93 630.43,336 630.58,336.06 630.72,336.11 630.87,336.15 631.02,336.19 631.16,336.23 631.31,336.26 631.45,336.28 631.6,336.3 631.74,336.32 631.89,336.34 632.04,336.35 632.18,336.36 632.33,336.37 632.47,336.37 632.62,336.38 632.77,336.38 632.91,336.39 633.06,336.39 633.2,336.39 633.35,336.39 633.5,336.4 633.64,336.4 633.79,336.4 633.93,336.4 634.08,336.4 634.23,336.4 634.37,336.4 634.52,336.4 634.66,336.4 634.81,336.4 634.95,336.4 635.1,336.4 635.25,336.4 635.39,336.4 635.54,336.4 635.68,336.4 635.83,336.4 635.98,336.4 636.12,336.4 636.27,336.4 636.41,336.4 636.56,336.4 636.71,336.4 636.85,336.4 637,336.4 637.14,336.4 637.29,336.4 637.44,336.4 637.58,336.4 637.73,336.4 637.87,336.4 638.02,336.4 638.16,336.4 638.31,336.4 638.46,336.4 638.6,336.4 638.75,336.4 638.89,336.4 639.04,336.4 639.19,336.4 639.33,336.4 639.48,336.4 639.62,336.4 639.77,336.4 639.92,336.4 640.06,336.4 640.21,336.4 640.35,336.4 640.5,336.4 640.65,336.4 640.79,336.4 640.94,336.4 641.08,336.4 641.23,336.4 641.38,336.4 641.52,336.4 641.67,336.4 641.81,336.4 641.96,336.4 642.1,336.4 642.25,336.4 642.4,336.4 642.54,336.4 642.69,336.4 642.83,336.4 642.98,336.4 643.13,336.4 643.27,336.4 643.42,336.4 643.56,336.4 643.71,336.4 643.86,336.4 644,336.4 644.15,336.4 644.29,336.4 644.44,336.4 644.59,336.4 644.73,336.4 644.88,336.4 645.02,336.4 645.17,336.4 645.31,336.4 645.46,336.4 645.61,336.4 645.75,336.4 645.9,336.4 646.04,336.4 646.19,336.4 646.34,336.4 646.48,336.4 646.63,336.4 646.77,336.4 646.92,336.4 647.07,336.4 647.21,336.4 647.36,336.4 647.5,336.4 647.65,336.4 647.8,336.4 647.94,336.4 648.09,336.4 648.23,336.4 648.38,336.4 648.52,336.4 648.67,336.4 648.82,336.4 648.96,336.4 649.11,336.4 649.25,336.4 649.4,336.4 649.55,336.4 649.69,336.4 649.84,336.4 649.98,336.4 650.13,336.4 650.28,336.4 650.42,336.4 650.57,336.4 650.71,336.4 650.86,336.4 651.01,336.4 651.15,336.4 651.3,336.4 651.44,336.4 651.59,336.4 651.73,336.4 651.88,336.4 652.03,336.4 652.17,336.4 652.32,336.4 652.46,336.4 652.61,336.4 652.76,336.4 652.9,336.4 653.05,336.4 653.19,336.4 653.34,336.4 653.49,336.4 653.63,336.4 653.78,336.4 653.92,336.4 654.07,336.4 654.22,336.4 654.36,336.4 654.51,336.4 654.65,336.4 654.8,336.4 654.94,336.4 655.09,336.4 655.24,336.4 655.38,336.4 655.53,336.4 655.67,336.4 655.82,336.4 655.97,336.4 656.11,336.4 656.26,336.4 656.4,336.4 656.55,336.4 656.7,336.4 656.84,336.4 656.99,336.4 657.13,336.4 657.28,336.4 657.43,336.4 657.57,336.4 657.72,336.4 657.86,336.4 658.01,336.4 658.15,336.4 658.3,336.4 658.45,336.4 658.59,336.4 658.74,336.4 658.88,336.4 659.03,336.4 659.18,336.4 659.32,336.4 659.47,336.4 659.61,336.4 659.76,336.4 659.91,336.4 660.05,336.4 660.2,336.4 660.34,336.4 660.49,336.4 660.64,336.4 660.78,336.4 660.93,336.4 661.07,336.4 661.22,336.4 661.36,336.4 661.51,336.4 661.66,336.4 661.8,336.4 661.95,336.4 662.09,336.4 662.24,336.4 662.39,336.4 662.53,336.4 662.68,336.4 662.82,336.4 662.97,336.4 663.12,336.4 663.26,336.4 663.41,336.4 663.55,336.4 663.7,336.4 663.85,336.4 663.99,336.4 664.14,336.4 664.28,336.4 664.43,336.4 664.57,336.4 664.72,336.4 664.87,336.4 665.01,336.4 665.16,336.4 665.3,336.4 665.45,336.4 665.6,336.4 665.74,336.4 665.89,336.4 666.03,336.4 666.18,336.4 666.33,336.4 666.47,336.4 666.62,336.4 666.76,336.4 666.91,336.4 667.06,336.4 667.2,336.4 667.35,336.4 667.49,336.4 667.64,336.4 667.78,336.4 667.93,336.4 668.08,336.4 668.22,336.4 668.37,336.4 668.51,336.4 668.66,336.4 668.81,336.4 668.95,336.4 669.1,336.4 669.24,336.4 669.39,336.4 669.54,336.4 669.68,336.4 669.83,336.4 669.97,336.4 670.12,336.4 670.27,336.4 670.41,336.4 670.56,336.4 670.7,336.4 670.85,336.4 670.99,336.4 671.14,336.4 671.29,336.4 671.43,336.4 671.58,336.4 671.72,336.4 671.87,336.4 672.02,336.4 672.16,336.4 672.31,336.4 672.45,336.4 672.6,336.4" fill="none" stroke="#8e1a3a" stroke-width="1.5" stroke-linejoin="round"/><polyline points="344.3,336.4 344.45,336.4 344.59,336.4 344.74,336.4 344.88,336.4 345.03,336.4 345.18,336.4 345.32,336.4 345.47,336.4 345.61,336.4 345.76,336.4 345.91,336.4 346.05,336.4 346.2,336.4 346.34,336.4 346.49,336.4 346.63,336.4 346.78,336.4 346.93,336.4 347.07,336.4 347.22,336.4 347.36,336.4 347.51,336.4 347.66,336.4 347.8,336.4 347.95,336.4 348.09,336.4 348.24,336.4 348.39,336.4 348.53,336.4 348.68,336.4 348.82,336.4 348.97,336.4 349.12,336.4 349.26,336.4 349.41,336.4 349.55,336.4 349.7,336.4 349.84,336.4 349.99,336.4 350.14,336.4 350.28,336.4 350.43,336.4 350.57,336.4 350.72,336.4 350.87,336.4 351.01,336.4 351.16,336.4 351.3,336.4 351.45,336.4 351.6,336.4 351.74,336.4 351.89,336.4 352.03,336.4 352.18,336.4 352.33,336.4 352.47,336.4 352.62,336.4 352.76,336.4 352.91,336.4 353.05,336.4 353.2,336.4 353.35,336.4 353.49,336.4 353.64,336.4 353.78,336.4 353.93,336.4 354.08,336.4 354.22,336.4 354.37,336.4 354.51,336.39 354.66,336.39 354.81,336.39 354.95,336.39 355.1,336.38 355.24,336.38 355.39,336.37 355.54,336.36 355.68,336.35 355.83,336.34 355.97,336.32 356.12,336.3 356.26,336.27 356.41,336.24 356.56,336.2 356.7,336.15 356.85,336.09 356.99,336.01 357.14,335.93 357.29,335.83 357.43,335.71 357.58,335.57 357.72,335.4 357.87,335.21 358.02,335 358.16,334.75 358.31,334.46 358.45,334.14 358.6,333.78 358.75,333.38 358.89,332.93 359.04,332.45 359.18,331.91 359.33,331.33 359.47,330.71 359.62,330.04 359.77,329.33 359.91,328.59 360.06,327.81 360.2,327 360.35,326.17 360.5,325.33 360.64,324.48 360.79,323.64 360.93,322.81 361.08,322 361.23,321.22 361.37,320.48 361.52,319.8 361.66,319.17 361.81,318.62 361.96,318.15 362.1,317.77 362.25,317.47 362.39,317.27 362.54,317.18 362.68,317.18 362.83,317.29 362.98,317.49 363.12,317.8 363.27,318.19 363.41,318.67 363.56,319.23 363.71,319.85 363.85,320.54 364,321.28 364.14,322.07 364.29,322.88 364.44,323.71 364.58,324.56 364.73,325.41 364.87,326.25 365.02,327.07 365.17,327.88 365.31,328.65 365.46,329.4 365.6,330.1 365.75,330.76 365.89,331.38 366.04,331.96 366.19,332.49 366.33,332.97 366.48,333.41 366.62,333.81 366.77,334.16 366.92,334.48 367.06,334.76 367.21,335 367.35,335.21 367.5,335.39 367.65,335.55 367.79,335.68 367.94,335.78 368.08,335.87 368.23,335.94 368.38,335.99 368.52,336.02 368.67,336.03 368.81,336.03 368.96,336.02 369.1,335.99 369.25,335.94 369.4,335.87 369.54,335.79 369.69,335.69 369.83,335.57 369.98,335.43 370.13,335.26 370.27,335.07 370.42,334.85 370.56,334.6 370.71,334.32 370.86,334.01 371,333.66 371.15,333.29 371.29,332.88 371.44,332.43 371.59,331.95 371.73,331.44 371.88,330.9 372.02,330.34 372.17,329.75 372.31,329.14 372.46,328.52 372.61,327.89 372.75,327.26 372.9,326.64 373.04,326.02 373.19,325.43 373.34,324.87 373.48,324.33 373.63,323.84 373.77,323.4 373.92,323.02 374.07,322.7 374.21,322.44 374.36,322.25 374.5,322.14 374.65,322.1 374.8,322.14 374.94,322.25 375.09,322.43 375.23,322.69 375.38,323.01 375.52,323.39 375.67,323.83 375.82,324.32 375.96,324.85 376.11,325.41 376.25,326.01 376.4,326.62 376.55,327.24 376.69,327.87 376.84,328.5 376.98,329.12 377.13,329.73 377.28,330.32 377.42,330.89 377.57,331.43 377.71,331.94 377.86,332.42 378.01,332.86 378.15,333.28 378.3,333.66 378.44,334 378.59,334.32 378.74,334.6 378.88,334.85 379.03,335.07 379.17,335.27 379.32,335.44 379.46,335.59 379.61,335.73 379.76,335.84 379.9,335.93 380.05,336.02 380.19,336.09 380.34,336.14 380.49,336.19 380.63,336.23 380.78,336.26 380.92,336.29 381.07,336.31 381.22,336.33 381.36,336.35 381.51,336.36 381.65,336.37 381.8,336.37 381.95,336.38 382.09,336.39 382.24,336.39 382.38,336.39 382.53,336.39 382.67,336.4 382.82,336.4 382.97,336.4 383.11,336.4 383.26,336.4 383.4,336.4 383.55,336.4 383.7,336.4 383.84,336.4 383.99,336.4 384.13,336.4 384.28,336.4 384.43,336.4 384.57,336.4 384.72,336.4 384.86,336.4 385.01,336.4 385.16,336.4 385.3,336.4 385.45,336.4 385.59,336.4 385.74,336.4 385.88,336.4 386.03,336.4 386.18,336.4 386.32,336.4 386.47,336.4 386.61,336.4 386.76,336.4 386.91,336.4 387.05,336.4 387.2,336.4 387.34,336.4 387.49,336.4 387.64,336.4 387.78,336.4 387.93,336.39 388.07,336.39 388.22,336.39 388.37,336.39 388.51,336.38 388.66,336.38 388.8,336.37 388.95,336.36 389.09,336.34 389.24,336.33 389.39,336.31 389.53,336.28 389.68,336.24 389.82,336.2 389.97,336.15 390.12,336.08 390.26,336 390.41,335.9 390.55,335.78 390.7,335.63 390.85,335.45 390.99,335.24 391.14,334.99 391.28,334.69 391.43,334.34 391.58,333.94 391.72,333.46 391.87,332.92 392.01,332.3 392.16,331.59 392.3,330.8 392.45,329.9 392.6,328.9 392.74,327.79 392.89,326.57 393.03,325.24 393.18,323.79 393.33,322.23 393.47,320.56 393.62,318.79 393.76,316.92 393.91,314.96 394.06,312.94 394.2,310.86 394.35,308.74 394.49,306.61 394.64,304.48 394.79,302.37 394.93,300.32 395.08,298.35 395.22,296.48 395.37,294.75 395.51,293.16 395.66,291.75 395.81,290.54 395.95,289.55 396.1,288.78 396.24,288.26 396.39,287.99 396.54,287.97 396.68,288.21 396.83,288.7 396.97,289.44 397.12,290.41 397.27,291.6 397.41,292.98 397.56,294.55 397.7,296.27 397.85,298.12 398,300.08 398.14,302.12 398.29,304.22 398.43,306.35 398.58,308.49 398.72,310.61 398.87,312.69 399.02,314.72 399.16,316.69 399.31,318.57 399.45,320.35 399.6,322.03 399.75,323.61 399.89,325.07 400.04,326.42 400.18,327.65 400.33,328.77 400.48,329.79 400.62,330.69 400.77,331.5 400.91,332.22 401.06,332.85 401.21,333.4 401.35,333.88 401.5,334.3 401.64,334.65 401.79,334.95 401.93,335.21 402.08,335.43 402.23,335.61 402.37,335.76 402.52,335.88 402.66,335.99 402.81,336.07 402.96,336.14 403.1,336.19 403.25,336.24 403.39,336.27 403.54,336.3 403.69,336.32 403.83,336.34 403.98,336.36 404.12,336.37 404.27,336.37 404.42,336.38 404.56,336.39 404.71,336.39 404.85,336.39 405,336.39 405.14,336.4 405.29,336.4 405.44,336.4 405.58,336.4 405.73,336.4 405.87,336.4 406.02,336.4 406.17,336.4 406.31,336.4 406.46,336.4 406.6,336.4 406.75,336.4 406.9,336.4 407.04,336.4 407.19,336.4 407.33,336.4 407.48,336.4 407.63,336.4 407.77,336.4 407.92,336.4 408.06,336.4 408.21,336.4 408.35,336.4 408.5,336.39 408.65,336.39 408.79,336.39 408.94,336.39 409.08,336.38 409.23,336.38 409.38,336.38 409.52,336.37 409.67,336.36 409.81,336.35 409.96,336.34 410.11,336.33 410.25,336.32 410.4,336.3 410.54,336.28 410.69,336.26 410.84,336.24 410.98,336.21 411.13,336.17 411.27,336.14 411.42,336.09 411.57,336.05 411.71,336 411.86,335.94 412,335.88 412.15,335.81 412.29,335.74 412.44,335.66 412.59,335.58 412.73,335.49 412.88,335.4 413.02,335.31 413.17,335.21 413.32,335.11 413.46,335.02 413.61,334.92 413.75,334.82 413.9,334.73 414.05,334.64 414.19,334.56 414.34,334.48 414.48,334.41 414.63,334.34 414.78,334.29 414.92,334.24 415.07,334.21 415.21,334.19 415.36,334.17 415.5,334.17 415.65,334.18 415.8,334.2 415.94,334.23 416.09,334.26 416.23,334.3 416.38,334.35 416.53,334.4 416.67,334.45 416.82,334.5 416.96,334.54 417.11,334.57 417.26,334.58 417.4,334.58 417.55,334.55 417.69,334.49 417.84,334.39 417.99,334.25 418.13,334.05 418.28,333.79 418.42,333.44 418.57,333.01 418.71,332.48 418.86,331.83 419.01,331.05 419.15,330.13 419.3,329.03 419.44,327.76 419.59,326.28 419.74,324.58 419.88,322.65 420.03,320.46 420.17,318.01 420.32,315.27 420.47,312.25 420.61,308.92 420.76,305.29 420.9,301.36 421.05,297.14 421.2,292.64 421.34,287.87 421.49,282.87 421.63,277.66 421.78,272.27 421.92,266.77 422.07,261.19 422.22,255.59 422.36,250.02 422.51,244.57 422.65,239.28 422.8,234.23 422.95,229.48 423.09,225.11 423.24,221.16 423.38,217.7 423.53,214.79 423.68,212.46 423.82,210.75 423.97,209.69 424.11,209.3 424.26,209.58 424.41,210.52 424.55,212.12 424.7,214.34 424.84,217.15 424.99,220.51 425.13,224.38 425.28,228.68 425.43,233.36 425.57,238.36 425.72,243.6 425.86,249.02 426.01,254.56 426.16,260.14 426.3,265.71 426.45,271.21 426.59,276.59 426.74,281.8 426.89,286.8 427.03,291.57 427.18,296.06 427.32,300.27 427.47,304.18 427.62,307.78 427.76,311.06 427.91,314.03 428.05,316.7 428.2,319.07 428.34,321.15 428.49,322.96 428.64,324.52 428.78,325.84 428.93,326.93 429.07,327.83 429.22,328.55 429.37,329.1 429.51,329.5 429.66,329.77 429.8,329.94 429.95,330 430.1,329.99 430.24,329.91 430.39,329.77 430.53,329.6 430.68,329.39 430.83,329.17 430.97,328.94 431.12,328.71 431.26,328.49 431.41,328.29 431.55,328.11 431.7,327.97 431.85,327.85 431.99,327.77 432.14,327.74 432.28,327.74 432.43,327.79 432.58,327.88 432.72,328.01 432.87,328.18 433.01,328.39 433.16,328.64 433.31,328.92 433.45,329.22 433.6,329.55 433.74,329.9 433.89,330.26 434.04,330.64 434.18,331.01 434.33,331.39 434.47,331.77 434.62,332.15 434.76,332.51 434.91,332.86 435.06,333.2 435.2,333.51 435.35,333.82 435.49,334.1 435.64,334.36 435.79,334.6 435.93,334.82 436.08,335.02 436.22,335.21 436.37,335.37 436.52,335.52 436.66,335.65 436.81,335.76 436.95,335.86 437.1,335.94 437.25,336.02 437.39,336.08 437.54,336.14 437.68,336.18 437.83,336.22 437.97,336.26 438.12,336.28 438.27,336.31 438.41,336.32 438.56,336.34 438.7,336.35 438.85,336.36 439,336.37 439.14,336.38 439.29,336.38 439.43,336.39 439.58,336.39 439.73,336.39 439.87,336.39 440.02,336.4 440.16,336.4 440.31,336.4 440.46,336.4 440.6,336.4 440.75,336.4 440.89,336.4 441.04,336.4 441.18,336.4 441.33,336.4 441.48,336.4 441.62,336.4 441.77,336.4 441.91,336.4 442.06,336.4 442.21,336.4 442.35,336.4 442.5,336.4 442.64,336.4 442.79,336.4 442.94,336.4 443.08,336.4 443.23,336.4 443.37,336.4 443.52,336.4 443.67,336.4 443.81,336.4 443.96,336.4 444.1,336.4 444.25,336.4 444.4,336.4 444.54,336.4 444.69,336.4 444.83,336.4 444.98,336.4 445.12,336.4 445.27,336.4 445.42,336.4 445.56,336.4 445.71,336.4 445.85,336.4 446,336.4 446.15,336.4 446.29,336.4 446.44,336.4 446.58,336.4 446.73,336.4 446.88,336.4 447.02,336.4 447.17,336.4 447.31,336.4 447.46,336.4 447.61,336.4 447.75,336.4 447.9,336.4 448.04,336.4 448.19,336.4 448.33,336.4 448.48,336.4 448.63,336.4 448.77,336.4 448.92,336.4 449.06,336.4 449.21,336.4 449.36,336.4 449.5,336.4 449.65,336.4 449.79,336.4 449.94,336.4 450.09,336.4 450.23,336.4 450.38,336.4 450.52,336.4 450.67,336.4 450.82,336.4 450.96,336.4 451.11,336.4 451.25,336.4 451.4,336.4 451.54,336.4 451.69,336.4 451.84,336.4 451.98,336.4 452.13,336.4 452.27,336.4 452.42,336.4 452.57,336.4 452.71,336.4 452.86,336.4 453,336.4 453.15,336.4 453.3,336.4 453.44,336.4 453.59,336.4 453.73,336.4 453.88,336.4 454.03,336.4 454.17,336.4 454.32,336.4 454.46,336.4 454.61,336.4 454.75,336.4 454.9,336.39 455.05,336.39 455.19,336.39 455.34,336.39 455.48,336.38 455.63,336.38 455.78,336.37 455.92,336.36 456.07,336.34 456.21,336.33 456.36,336.3 456.51,336.27 456.65,336.24 456.8,336.19 456.94,336.14 457.09,336.07 457.24,335.98 457.38,335.87 457.53,335.74 457.67,335.59 457.82,335.4 457.96,335.17 458.11,334.9 458.26,334.58 458.4,334.2 458.55,333.76 458.69,333.25 458.84,332.66 458.99,331.98 459.13,331.2 459.28,330.32 459.42,329.32 459.57,328.21 459.72,326.97 459.86,325.61 460.01,324.11 460.15,322.47 460.3,320.71 460.45,318.81 460.59,316.78 460.74,314.64 460.88,312.39 461.03,310.05 461.17,307.63 461.32,305.16 461.47,302.65 461.61,300.13 461.76,297.64 461.9,295.18 462.05,292.81 462.2,290.54 462.34,288.4 462.49,286.44 462.63,284.66 462.78,283.11 462.93,281.8 463.07,280.75 463.22,279.98 463.36,279.5 463.51,279.32 463.66,279.44 463.8,279.86 463.95,280.58 464.09,281.57 464.24,282.83 464.38,284.34 464.53,286.08 464.68,288.01 464.82,290.11 464.97,292.36 465.11,294.72 465.26,297.16 465.41,299.65 465.55,302.16 465.7,304.68 465.84,307.16 465.99,309.59 466.14,311.95 466.28,314.21 466.43,316.38 466.57,318.43 466.72,320.35 466.87,322.14 467.01,323.8 467.16,325.33 467.3,326.72 467.45,327.98 467.59,329.12 467.74,330.13 467.89,331.04 468.03,331.83 468.18,332.53 468.32,333.14 468.47,333.67 468.62,334.12 468.76,334.51 468.91,334.84 469.05,335.12 469.2,335.36 469.35,335.55 469.49,335.72 469.64,335.85 469.78,335.96 469.93,336.05 470.08,336.12 470.22,336.18 470.37,336.23 470.51,336.27 470.66,336.3 470.8,336.32 470.95,336.34 471.1,336.35 471.24,336.37 471.39,336.37 471.53,336.38 471.68,336.39 471.83,336.39 471.97,336.39 472.12,336.39 472.26,336.4 472.41,336.4 472.56,336.4 472.7,336.4 472.85,336.4 472.99,336.4 473.14,336.4 473.29,336.4 473.43,336.4 473.58,336.4 473.72,336.4 473.87,336.4 474.01,336.4 474.16,336.4 474.31,336.4 474.45,336.4 474.6,336.4 474.74,336.4 474.89,336.4 475.04,336.4 475.18,336.4 475.33,336.4 475.47,336.4 475.62,336.4 475.77,336.4 475.91,336.4 476.06,336.4 476.2,336.4 476.35,336.4 476.5,336.4 476.64,336.4 476.79,336.4 476.93,336.4 477.08,336.4 477.23,336.4 477.37,336.4 477.52,336.4 477.66,336.4 477.81,336.4 477.95,336.4 478.1,336.4 478.25,336.4 478.39,336.4 478.54,336.4 478.68,336.4 478.83,336.4 478.98,336.4 479.12,336.4 479.27,336.4 479.41,336.4 479.56,336.4 479.71,336.4 479.85,336.4 480,336.4 480.14,336.4 480.29,336.4 480.44,336.4 480.58,336.4 480.73,336.4 480.87,336.4 481.02,336.4 481.16,336.4 481.31,336.4 481.46,336.4 481.6,336.4 481.75,336.4 481.89,336.4 482.04,336.4 482.19,336.4 482.33,336.4 482.48,336.4 482.62,336.4 482.77,336.4 482.92,336.4 483.06,336.4 483.21,336.4 483.35,336.4 483.5,336.4 483.65,336.4 483.79,336.4 483.94,336.4 484.08,336.4 484.23,336.4 484.37,336.4 484.52,336.4 484.67,336.4 484.81,336.4 484.96,336.4 485.1,336.4 485.25,336.4 485.4,336.4 485.54,336.4 485.69,336.4 485.83,336.4 485.98,336.4 486.13,336.4 486.27,336.4 486.42,336.4 486.56,336.4 486.71,336.4 486.86,336.4 487,336.4 487.15,336.4 487.29,336.4 487.44,336.4 487.58,336.4 487.73,336.4 487.88,336.4 488.02,336.4 488.17,336.4 488.31,336.4 488.46,336.4 488.61,336.4 488.75,336.4 488.9,336.4 489.04,336.4 489.19,336.4 489.34,336.4 489.48,336.4 489.63,336.39 489.77,336.39 489.92,336.39 490.07,336.39 490.21,336.38 490.36,336.38 490.5,336.37 490.65,336.37 490.79,336.36 490.94,336.35 491.09,336.34 491.23,336.32 491.38,336.31 491.52,336.29 491.67,336.26 491.82,336.23 491.96,336.2 492.11,336.16 492.25,336.12 492.4,336.07 492.55,336.01 492.69,335.94 492.84,335.87 492.98,335.79 493.13,335.7 493.28,335.6 493.42,335.49 493.57,335.37 493.71,335.25 493.86,335.11 494,334.97 494.15,334.81 494.3,334.66 494.44,334.49 494.59,334.32 494.73,334.15 494.88,333.98 495.03,333.8 495.17,333.63 495.32,333.46 495.46,333.3 495.61,333.15 495.76,333.01 495.9,332.88 496.05,332.77 496.19,332.67 496.34,332.59 496.49,332.52 496.63,332.48 496.78,332.46 496.92,332.46 497.07,332.48 497.21,332.52 497.36,332.58 497.51,332.65 497.65,332.75 497.8,332.86 497.94,332.99 498.09,333.13 498.24,333.28 498.38,333.44 498.53,333.61 498.67,333.78 498.82,333.95 498.97,334.13 499.11,334.3 499.26,334.47 499.4,334.63 499.55,334.79 499.7,334.95 499.84,335.09 499.99,335.23 500.13,335.36 500.28,335.48 500.42,335.59 500.57,335.69 500.72,335.78 500.86,335.86 501.01,335.93 501.15,336 501.3,336.06 501.45,336.11 501.59,336.16 501.74,336.19 501.88,336.23 502.03,336.26 502.18,336.28 502.32,336.3 502.47,336.32 502.61,336.34 502.76,336.35 502.91,336.36 503.05,336.37 503.2,336.37 503.34,336.38 503.49,336.38 503.63,336.39 503.78,336.39 503.93,336.39 504.07,336.39 504.22,336.4 504.36,336.4 504.51,336.4 504.66,336.4 504.8,336.4 504.95,336.4 505.09,336.4 505.24,336.4 505.39,336.4 505.53,336.4 505.68,336.4 505.82,336.4 505.97,336.4 506.12,336.4 506.26,336.4 506.41,336.4 506.55,336.4 506.7,336.4 506.84,336.4 506.99,336.39 507.14,336.39 507.28,336.39 507.43,336.39 507.57,336.38 507.72,336.38 507.87,336.37 508.01,336.36 508.16,336.35 508.3,336.34 508.45,336.32 508.6,336.3 508.74,336.28 508.89,336.25 509.03,336.21 509.18,336.16 509.33,336.11 509.47,336.05 509.62,335.97 509.76,335.88 509.91,335.78 510.06,335.66 510.2,335.52 510.35,335.36 510.49,335.17 510.64,334.97 510.78,334.73 510.93,334.47 511.08,334.18 511.22,333.85 511.37,333.5 511.51,333.11 511.66,332.69 511.81,332.24 511.95,331.76 512.1,331.26 512.24,330.72 512.39,330.17 512.54,329.6 512.68,329.01 512.83,328.41 512.97,327.81 513.12,327.22 513.27,326.64 513.41,326.07 513.56,325.53 513.7,325.02 513.85,324.55 513.99,324.13 514.14,323.76 514.29,323.44 514.43,323.19 514.58,323 514.72,322.89 514.87,322.84 515.02,322.86 515.16,322.96 515.31,323.13 515.45,323.36 515.6,323.66 515.75,324.01 515.89,324.42 516.04,324.88 516.18,325.38 516.33,325.91 516.48,326.47 516.62,327.05 516.77,327.64 516.91,328.24 517.06,328.83 517.2,329.42 517.35,330 517.5,330.56 517.64,331.1 517.79,331.62 517.93,332.11 518.08,332.56 518.23,332.99 518.37,333.39 518.52,333.75 518.66,334.08 518.81,334.39 518.96,334.66 519.1,334.9 519.25,335.12 519.39,335.31 519.54,335.47 519.69,335.62 519.83,335.75 519.98,335.85 520.12,335.95 520.27,336.03 520.41,336.09 520.56,336.15 520.71,336.2 520.85,336.24 521,336.27 521.14,336.29 521.29,336.32 521.44,336.33 521.58,336.35 521.73,336.36 521.87,336.37 522.02,336.38 522.17,336.38 522.31,336.39 522.46,336.39 522.6,336.39 522.75,336.39 522.9,336.39 523.04,336.4 523.19,336.4 523.33,336.4 523.48,336.39 523.62,336.39 523.77,336.39 523.92,336.39 524.06,336.39 524.21,336.38 524.35,336.38 524.5,336.37 524.65,336.36 524.79,336.35 524.94,336.34 525.08,336.32 525.23,336.29 525.38,336.26 525.52,336.22 525.67,336.18 525.81,336.12 525.96,336.05 526.11,335.96 526.25,335.86 526.4,335.74 526.54,335.59 526.69,335.41 526.83,335.2 526.98,334.95 527.13,334.65 527.27,334.32 527.42,333.93 527.56,333.48 527.71,332.96 527.86,332.38 528,331.73 528.15,331 528.29,330.18 528.44,329.29 528.59,328.3 528.73,327.23 528.88,326.07 529.02,324.82 529.17,323.5 529.32,322.09 529.46,320.62 529.61,319.09 529.75,317.51 529.9,315.89 530.04,314.26 530.19,312.62 530.34,310.99 530.48,309.39 530.63,307.85 530.77,306.37 530.92,304.99 531.07,303.71 531.21,302.57 531.36,301.57 531.5,300.72 531.65,300.05 531.8,299.57 531.94,299.27 532.09,299.17 532.23,299.26 532.38,299.55 532.53,300.03 532.67,300.7 532.82,301.53 532.96,302.53 533.11,303.67 533.25,304.94 533.4,306.32 533.55,307.79 533.69,309.34 533.84,310.93 533.98,312.56 534.13,314.2 534.28,315.84 534.42,317.45 534.57,319.03 534.71,320.57 534.86,322.04 535.01,323.45 535.15,324.78 535.3,326.03 535.44,327.19 535.59,328.27 535.74,329.25 535.88,330.15 536.03,330.97 536.17,331.71 536.32,332.36 536.46,332.94 536.61,333.46 536.76,333.91 536.9,334.3 537.05,334.64 537.19,334.94 537.34,335.19 537.49,335.4 537.63,335.58 537.78,335.73 537.92,335.86 538.07,335.96 538.22,336.05 538.36,336.12 538.51,336.18 538.65,336.22 538.8,336.26 538.95,336.29 539.09,336.32 539.24,336.33 539.38,336.35 539.53,336.36 539.67,336.37 539.82,336.38 539.97,336.38 540.11,336.39 540.26,336.39 540.4,336.39 540.55,336.39 540.7,336.4 540.84,336.4 540.99,336.4 541.13,336.4 541.28,336.4 541.43,336.4 541.57,336.4 541.72,336.4 541.86,336.4 542.01,336.4 542.16,336.4 542.3,336.4 542.45,336.4 542.59,336.4 542.74,336.4 542.89,336.4 543.03,336.4 543.18,336.4 543.32,336.4 543.47,336.4 543.61,336.4 543.76,336.4 543.91,336.4 544.05,336.4 544.2,336.4 544.34,336.4 544.49,336.4 544.64,336.4 544.78,336.4 544.93,336.4 545.07,336.4 545.22,336.4 545.37,336.4 545.51,336.4 545.66,336.4 545.8,336.4 545.95,336.4 546.1,336.4 546.24,336.4 546.39,336.4 546.53,336.4 546.68,336.4 546.82,336.4 546.97,336.4 547.12,336.4 547.26,336.4 547.41,336.4 547.55,336.4 547.7,336.4 547.85,336.4 547.99,336.4 548.14,336.4 548.28,336.4 548.43,336.4 548.58,336.4 548.72,336.4 548.87,336.4 549.01,336.4 549.16,336.4 549.31,336.4 549.45,336.4 549.6,336.4 549.74,336.4 549.89,336.39 550.03,336.39 550.18,336.39 550.33,336.38 550.47,336.38 550.62,336.37 550.76,336.36 550.91,336.35 551.06,336.33 551.2,336.31 551.35,336.28 551.49,336.25 551.64,336.21 551.79,336.15 551.93,336.08 552.08,336 552.22,335.89 552.37,335.77 552.52,335.61 552.66,335.42 552.81,335.19 552.95,334.92 553.1,334.59 553.24,334.2 553.39,333.74 553.54,333.21 553.68,332.58 553.83,331.86 553.97,331.03 554.12,330.08 554.27,329.01 554.41,327.79 554.56,326.43 554.7,324.92 554.85,323.24 555,321.4 555.14,319.4 555.29,317.23 555.43,314.89 555.58,312.4 555.73,309.76 555.87,306.98 556.02,304.09 556.16,301.1 556.31,298.03 556.45,294.92 556.6,291.8 556.75,288.69 556.89,285.63 557.04,282.67 557.18,279.83 557.33,277.15 557.48,274.68 557.62,272.44 557.77,270.47 557.91,268.8 558.06,267.45 558.21,266.44 558.35,265.8 558.5,265.52 558.64,265.62 558.79,266.09 558.94,266.93 559.08,268.12 559.23,269.64 559.37,271.47 559.52,273.59 559.66,275.96 559.81,278.54 559.96,281.31 560.1,284.22 560.25,287.24 560.39,290.33 560.54,293.45 560.69,296.57 560.83,299.66 560.98,302.69 561.12,305.63 561.27,308.46 561.42,311.17 561.56,313.73 561.71,316.14 561.85,318.39 562,320.48 562.15,322.4 562.29,324.15 562.44,325.74 562.58,327.17 562.73,328.45 562.87,329.59 563.02,330.6 563.17,331.48 563.31,332.25 563.46,332.92 563.6,333.5 563.75,333.99 563.9,334.41 564.04,334.77 564.19,335.07 564.33,335.32 564.48,335.52 564.63,335.7 564.77,335.84 564.92,335.95 565.06,336.05 565.21,336.12 565.36,336.18 565.5,336.23 565.65,336.27 565.79,336.3 565.94,336.32 566.08,336.34 566.23,336.36 566.38,336.37 566.52,336.37 566.67,336.38 566.81,336.39 566.96,336.39 567.11,336.39 567.25,336.39 567.4,336.4 567.54,336.4 567.69,336.4 567.84,336.4 567.98,336.4 568.13,336.4 568.27,336.4 568.42,336.4 568.57,336.4 568.71,336.4 568.86,336.4 569,336.4 569.15,336.4 569.29,336.4 569.44,336.4 569.59,336.4 569.73,336.4 569.88,336.4 570.02,336.4 570.17,336.4 570.32,336.4 570.46,336.4 570.61,336.4 570.75,336.4 570.9,336.4 571.05,336.4 571.19,336.4 571.34,336.4 571.48,336.4 571.63,336.4 571.78,336.4 571.92,336.4 572.07,336.4 572.21,336.4 572.36,336.4 572.5,336.4 572.65,336.4 572.8,336.4 572.94,336.4 573.09,336.4 573.23,336.4 573.38,336.4 573.53,336.4 573.67,336.4 573.82,336.4 573.96,336.4 574.11,336.4 574.26,336.4 574.4,336.4 574.55,336.4 574.69,336.4 574.84,336.4 574.99,336.4 575.13,336.4 575.28,336.4 575.42,336.4 575.57,336.4 575.72,336.4 575.86,336.4 576.01,336.4 576.15,336.4 576.3,336.4 576.44,336.4 576.59,336.4 576.74,336.4 576.88,336.4 577.03,336.4 577.17,336.4 577.32,336.4 577.47,336.4 577.61,336.4 577.76,336.4 577.9,336.4 578.05,336.4 578.2,336.4 578.34,336.4 578.49,336.4 578.63,336.4 578.78,336.4 578.93,336.4 579.07,336.4 579.22,336.4 579.36,336.4 579.51,336.4 579.65,336.4 579.8,336.4 579.95,336.4 580.09,336.4 580.24,336.4 580.38,336.4 580.53,336.4 580.68,336.4 580.82,336.4 580.97,336.4 581.11,336.4 581.26,336.4 581.41,336.4 581.55,336.4 581.7,336.4 581.84,336.4 581.99,336.4 582.14,336.4 582.28,336.4 582.43,336.4 582.57,336.4 582.72,336.4 582.86,336.4 583.01,336.4 583.16,336.4 583.3,336.4 583.45,336.4 583.59,336.4 583.74,336.4 583.89,336.4 584.03,336.4 584.18,336.4 584.32,336.4 584.47,336.4 584.62,336.4 584.76,336.4 584.91,336.4 585.05,336.4 585.2,336.4 585.35,336.4 585.49,336.4 585.64,336.4 585.78,336.4 585.93,336.4 586.07,336.4 586.22,336.4 586.37,336.4 586.51,336.4 586.66,336.4 586.8,336.4 586.95,336.4 587.1,336.4 587.24,336.4 587.39,336.4 587.53,336.4 587.68,336.4 587.83,336.4 587.97,336.4 588.12,336.4 588.26,336.4 588.41,336.4 588.56,336.4 588.7,336.4 588.85,336.4 588.99,336.4 589.14,336.4 589.28,336.4 589.43,336.4 589.58,336.39 589.72,336.39 589.87,336.39 590.01,336.39 590.16,336.38 590.31,336.38 590.45,336.37 590.6,336.37 590.74,336.36 590.89,336.35 591.04,336.34 591.18,336.32 591.33,336.31 591.47,336.29 591.62,336.26 591.77,336.24 591.91,336.2 592.06,336.16 592.2,336.12 592.35,336.07 592.49,336.01 592.64,335.94 592.79,335.87 592.93,335.79 593.08,335.7 593.22,335.59 593.37,335.48 593.52,335.36 593.66,335.23 593.81,335.09 593.95,334.94 594.1,334.78 594.25,334.62 594.39,334.44 594.54,334.27 594.68,334.08 594.83,333.9 594.98,333.71 595.12,333.53 595.27,333.35 595.41,333.18 595.56,333.01 595.7,332.86 595.85,332.71 596,332.59 596.14,332.47 596.29,332.38 596.43,332.31 596.58,332.25 596.73,332.22 596.87,332.21 597.02,332.22 597.16,332.25 597.31,332.31 597.46,332.38 597.6,332.48 597.75,332.59 597.89,332.72 598.04,332.86 598.19,333.02 598.33,333.19 598.48,333.36 598.62,333.54 598.77,333.72 598.91,333.91 599.06,334.09 599.21,334.27 599.35,334.45 599.5,334.62 599.64,334.79 599.79,334.95 599.94,335.1 600.08,335.24 600.23,335.37 600.37,335.49 600.52,335.6 600.67,335.7 600.81,335.79 600.96,335.87 601.1,335.95 601.25,336.01 601.4,336.07 601.54,336.12 601.69,336.16 601.83,336.2 601.98,336.23 602.12,336.26 602.27,336.28 602.42,336.3 602.56,336.32 602.71,336.33 602.85,336.33 603,336.34 603.15,336.34 603.29,336.34 603.44,336.34 603.58,336.33 603.73,336.32 603.88,336.3 604.02,336.28 604.17,336.26 604.31,336.23 604.46,336.2 604.61,336.16 604.75,336.11 604.9,336.05 605.04,335.98 605.19,335.9 605.33,335.81 605.48,335.7 605.63,335.58 605.77,335.45 605.92,335.3 606.06,335.13 606.21,334.95 606.36,334.74 606.5,334.52 606.65,334.28 606.79,334.02 606.94,333.74 607.09,333.45 607.23,333.14 607.38,332.82 607.52,332.49 607.67,332.15 607.82,331.8 607.96,331.45 608.11,331.11 608.25,330.77 608.4,330.44 608.55,330.12 608.69,329.82 608.84,329.54 608.98,329.29 609.13,329.07 609.27,328.88 609.42,328.73 609.57,328.62 609.71,328.54 609.86,328.51 610,328.52 610.15,328.57 610.3,328.66 610.44,328.79 610.59,328.96 610.73,329.16 610.88,329.4 611.03,329.66 611.17,329.94 611.32,330.25 611.46,330.58 611.61,330.91 611.76,331.25 611.9,331.6 612.05,331.95 612.19,332.29 612.34,332.63 612.48,332.96 612.63,333.27 612.78,333.58 612.92,333.86 613.07,334.13 613.21,334.38 613.36,334.62 613.51,334.83 613.65,335.03 613.8,335.2 613.94,335.36 614.09,335.51 614.24,335.64 614.38,335.75 614.53,335.85 614.67,335.93 614.82,336.01 614.97,336.07 615.11,336.13 615.26,336.18 615.4,336.22 615.55,336.25 615.69,336.28 615.84,336.3 615.99,336.32 616.13,336.34 616.28,336.35 616.42,336.36 616.57,336.37 616.72,336.38 616.86,336.38 617.01,336.39 617.15,336.39 617.3,336.39 617.45,336.39 617.59,336.39 617.74,336.4 617.88,336.4 618.03,336.4 618.18,336.4 618.32,336.4 618.47,336.4 618.61,336.4 618.76,336.4 618.9,336.4 619.05,336.4 619.2,336.4 619.34,336.4 619.49,336.4 619.63,336.4 619.78,336.4 619.93,336.4 620.07,336.4 620.22,336.4 620.36,336.4 620.51,336.4 620.66,336.4 620.8,336.4 620.95,336.4 621.09,336.4 621.24,336.4 621.39,336.4 621.53,336.4 621.68,336.4 621.82,336.4 621.97,336.4 622.11,336.4 622.26,336.4 622.41,336.4 622.55,336.4 622.7,336.4 622.84,336.4 622.99,336.4 623.14,336.4 623.28,336.4 623.43,336.4 623.57,336.4 623.72,336.4 623.87,336.39 624.01,336.39 624.16,336.39 624.3,336.39 624.45,336.38 624.6,336.38 624.74,336.37 624.89,336.37 625.03,336.36 625.18,336.35 625.32,336.34 625.47,336.32 625.62,336.3 625.76,336.28 625.91,336.26 626.05,336.23 626.2,336.2 626.35,336.16 626.49,336.11 626.64,336.06 626.78,336 626.93,335.94 627.08,335.86 627.22,335.78 627.37,335.69 627.51,335.59 627.66,335.48 627.81,335.36 627.95,335.23 628.1,335.09 628.24,334.94 628.39,334.78 628.53,334.62 628.68,334.45 628.83,334.28 628.97,334.1 629.12,333.92 629.26,333.74 629.41,333.56 629.56,333.39 629.7,333.22 629.85,333.07 629.99,332.92 630.14,332.78 630.29,332.66 630.43,332.56 630.58,332.47 630.72,332.41 630.87,332.36 631.02,332.34 631.16,332.33 631.31,332.35 631.45,332.39 631.6,332.45 631.74,332.53 631.89,332.63 632.04,332.74 632.18,332.87 632.33,333.01 632.47,333.17 632.62,333.33 632.77,333.5 632.91,333.68 633.06,333.86 633.2,334.04 633.35,334.21 633.5,334.39 633.64,334.56 633.79,334.73 633.93,334.88 634.08,335.04 634.23,335.18 634.37,335.31 634.52,335.43 634.66,335.55 634.81,335.65 634.95,335.75 635.1,335.84 635.25,335.91 635.39,335.98 635.54,336.04 635.68,336.1 635.83,336.14 635.98,336.18 636.12,336.22 636.27,336.25 636.41,336.28 636.56,336.3 636.71,336.32 636.85,336.33 637,336.34 637.14,336.36 637.29,336.36 637.44,336.37 637.58,336.38 637.73,336.38 637.87,336.39 638.02,336.39 638.16,336.39 638.31,336.39 638.46,336.39 638.6,336.4 638.75,336.4 638.89,336.4 639.04,336.4 639.19,336.4 639.33,336.4 639.48,336.4 639.62,336.4 639.77,336.4 639.92,336.4 640.06,336.4 640.21,336.4 640.35,336.4 640.5,336.4 640.65,336.4 640.79,336.4 640.94,336.4 641.08,336.4 641.23,336.4 641.38,336.4 641.52,336.4 641.67,336.4 641.81,336.4 641.96,336.4 642.1,336.4 642.25,336.4 642.4,336.4 642.54,336.4 642.69,336.4 642.83,336.4 642.98,336.4 643.13,336.4 643.27,336.4 643.42,336.4 643.56,336.4 643.71,336.4 643.86,336.4 644,336.4 644.15,336.4 644.29,336.4 644.44,336.4 644.59,336.4 644.73,336.4 644.88,336.4 645.02,336.4 645.17,336.4 645.31,336.4 645.46,336.4 645.61,336.4 645.75,336.4 645.9,336.4 646.04,336.4 646.19,336.4 646.34,336.4 646.48,336.4 646.63,336.4 646.77,336.4 646.92,336.4 647.07,336.4 647.21,336.4 647.36,336.4 647.5,336.4 647.65,336.4 647.8,336.4 647.94,336.4 648.09,336.4 648.23,336.4 648.38,336.4 648.52,336.4 648.67,336.4 648.82,336.4 648.96,336.4 649.11,336.4 649.25,336.4 649.4,336.4 649.55,336.4 649.69,336.4 649.84,336.4 649.98,336.4 650.13,336.4 650.28,336.4 650.42,336.4 650.57,336.4 650.71,336.4 650.86,336.4 651.01,336.4 651.15,336.4 651.3,336.4 651.44,336.4 651.59,336.4 651.73,336.4 651.88,336.4 652.03,336.4 652.17,336.4 652.32,336.4 652.46,336.4 652.61,336.4 652.76,336.4 652.9,336.4 653.05,336.4 653.19,336.4 653.34,336.4 653.49,336.4 653.63,336.4 653.78,336.4 653.92,336.4 654.07,336.4 654.22,336.4 654.36,336.4 654.51,336.4 654.65,336.4 654.8,336.4 654.94,336.4 655.09,336.4 655.24,336.4 655.38,336.4 655.53,336.4 655.67,336.4 655.82,336.4 655.97,336.4 656.11,336.4 656.26,336.4 656.4,336.4 656.55,336.4 656.7,336.4 656.84,336.4 656.99,336.4 657.13,336.4 657.28,336.4 657.43,336.4 657.57,336.4 657.72,336.4 657.86,336.4 658.01,336.4 658.15,336.4 658.3,336.4 658.45,336.4 658.59,336.4 658.74,336.4 658.88,336.4 659.03,336.4 659.18,336.4 659.32,336.4 659.47,336.4 659.61,336.4 659.76,336.4 659.91,336.4 660.05,336.4 660.2,336.4 660.34,336.4 660.49,336.4 660.64,336.4 660.78,336.4 660.93,336.4 661.07,336.4 661.22,336.4 661.36,336.4 661.51,336.4 661.66,336.4 661.8,336.4 661.95,336.4 662.09,336.4 662.24,336.4 662.39,336.4 662.53,336.4 662.68,336.4 662.82,336.4 662.97,336.4 663.12,336.4 663.26,336.4 663.41,336.4 663.55,336.4 663.7,336.4 663.85,336.4 663.99,336.4 664.14,336.4 664.28,336.4 664.43,336.4 664.57,336.4 664.72,336.4 664.87,336.4 665.01,336.4 665.16,336.4 665.3,336.4 665.45,336.4 665.6,336.4 665.74,336.4 665.89,336.4 666.03,336.4 666.18,336.4 666.33,336.4 666.47,336.4 666.62,336.4 666.76,336.4 666.91,336.4 667.06,336.4 667.2,336.4 667.35,336.4 667.49,336.4 667.64,336.4 667.78,336.4 667.93,336.4 668.08,336.4 668.22,336.4 668.37,336.4 668.51,336.4 668.66,336.4 668.81,336.4 668.95,336.4 669.1,336.4 669.24,336.4 669.39,336.4 669.54,336.4 669.68,336.4 669.83,336.4 669.97,336.4 670.12,336.4 670.27,336.4 670.41,336.4 670.56,336.4 670.7,336.4 670.85,336.4 670.99,336.4 671.14,336.4 671.29,336.4 671.43,336.4 671.58,336.4 671.72,336.4 671.87,336.4 672.02,336.4 672.16,336.4 672.31,336.4 672.45,336.4 672.6,336.4" fill="none" stroke="#3a0fd6" stroke-width="1.5" stroke-linejoin="round"/></g>
</svg>
<script>(function(){
var cv=document.getElementById('hm'),ctx=cv.getContext('2d');
var NW=390,NH=218;
var CM=[[59,76,192],[68,90,204],[78,104,216],[88,117,225],[98,130,234],[108,143,241],[119,154,247],[130,166,251],[141,176,254],[152,185,255],[163,194,254],[174,201,252],[185,208,249],[195,213,244],[204,217,237],[213,219,229],[221,220,220],[229,216,209],[236,211,197],[241,204,184],[245,196,172],[247,186,159],[247,176,147],[246,165,134],[244,152,122],[240,139,110],[235,125,98],[228,110,86],[221,95,75],[212,78,65],[202,59,55],[190,36,46],[180,4,38]];
// band: start,len,fb,S,R,riseEnd,tc,sd,lead
var B=[[0,21,0.992,0.008,0.5,0.34,0.22,0.18,0,0.999],[21,19,0.995,0.01,0.5,0.34,0.18,0.2,0,1.0],[40,19,0.996,0.01,0.5,0.34,0.18,0.22,0,1.003],[59,18,0.997,0.012,0.5,0.34,0.16,0.25,0,1.0055],[77,17,0.998,0.014,0.5,0.34,0.17,0.26,0,1.0065],[94,16,0.998,0.016,0.5,0.34,0.17,0.27,0,1.01],[110,13,0.995,0.022,0.5,0.34,0.19,0.28,0,1.018],[123,14,0.987,0.036,0.4,0.34,0.22,0.3,0,1.023],[137,12,0.993,0.03,0.75,0.32,0.23,0.3,0,1.018],[149,12,0.985,0.05,0.3,0.34,0.27,0.32,0.1,1.021],[161,11,0.982,0.065,0.05,0.35,0.36,0.35,0.25,0.998],[172,9,0.982,0.065,0.05,0.35,0.38,0.36,0.3,0.999],[181,8,0.995,0.06,0.0,0.6,0.4,0.36,0.2,1],[189,7,1.012,0.05,0,0.9,0.42,0.36,0.15,1],[196,7,1.018,0.05,0,0.9,0.42,0.36,0.15,1],[203,5,1.022,0.045,0,0.9,0.42,0.36,0.15,1],[208,4,1.025,0.04,0,0.9,0.42,0.4,0.15,1],[212,2,1.028,0.03,0,0.9,0.4,0.5,0.2,1],[214,4,1.03,0.03,0,0.9,0.4,0.5,0.2,1]];
var P=[[16.75,0.26,0.5],[18.2,0.2,0.8],[21.0,0.55,0.85],[24.75,1.1,0.5],[25.9,0.08,1],[29.95,0.62,1],[34.3,0.05,1],[36.75,0.17,1],[38.9,0.42,1],[42.35,0.72,1],[47.4,0.09,1],[49.1,0.13,1],[50.5,0.07,1],[51.9,0.09,1],[61.5,0.04,1],[63.5,0.04,1]];
var PP=[[23.45,0.75],[16.7,0.2],[28.4,0.16],[34.2,0.16],[36.9,0.1],[21.0,0.08],[44.2,0.08],[48.5,0.08],[52.2,0.07],[55.3,0.06],[58.2,0.07],[61,0.06],[64.6,0.07],[67.2,0.06],[70.2,0.05],[73,0.05]];
var img=ctx.createImageData(NW,NH),d=img.data;
var sig=0.36;
function ss(a,b,x){x=(x-a)/(b-a);x=x<0?0:(x>1?1:x);return x*x*(3-2*x);}
for(var r=0;r<NH;r++){
 var b=0;for(var k=0;k<B.length;k++){if(r>=B[k][0])b=k;}
 var Bb=B[b],s=Bb[0],L=Bb[1],rr=r-s,t=(rr+0.5)/L;
 if(b==0){rr=r+1;t=(rr+0.5)/(L+1);}
 var bf=b/18;
 var fb=Bb[2],S=Bb[3],R=Bb[4],re=Bb[5],tc=Bb[6],sd=Bb[7],lead=Bb[8],mb=Bb[9];
 var g=(re>0.8?Math.min(1,t/re):ss(0,re,t))-R*ss(0.3,0.68,t);
 var sg=S*g;
 var w=(t<tc?Math.max(lead,Math.exp(-Math.pow((t-tc)/0.12,2))):Math.exp(-Math.pow((t-tc)/sd,2)))*(0.97-0.1*bf)+0.03+0.1*bf;
 var mk=b>=10?1:0;
 var pe=(1-0.85*bf)*(Math.exp(-Math.pow((rr-0.4)/1.2,2))+0.22*Math.exp(-Math.pow((L-rr-0.5)/(1+0.15*L),2)));
 if(b>=10)pe*=0.4;
 for(var c=0;c<NW;c++){
  var q=15+(c+0.5)/NW*65,v=0;
  for(var i=0;i<P.length;i++){var kk=mk?1:P[i][2];var dq=q-P[i][0]*fb*(i==3?mb:1)*(1+sg*kk);if(dq>-2&&dq<2)v+=P[i][1]*(P[i][0]>46?0.4+0.3*bf:1)*w*Math.exp(-0.5*dq*dq/(sig*sig));}
  for(var i=0;i<PP.length;i++){var dq=q-PP[i][0];if(dq>-2&&dq<2)v+=PP[i][1]*pe*Math.exp(-0.5*dq*dq/0.2);}
  v*=0.8; if(v>1)v=1;
  var f=v*32,j=Math.floor(f);if(j>31)j=31;var u=f-j;
  var o=(r*NW+c)*4;
  d[o]=CM[j][0]*(1-u)+CM[j+1][0]*u;d[o+1]=CM[j][1]*(1-u)+CM[j+1][1]*u;d[o+2]=CM[j][2]*(1-u)+CM[j+1][2]*u;d[o+3]=255;
 }
}
ctx.putImageData(img,0,0);
})();
</script>
</body></html>
